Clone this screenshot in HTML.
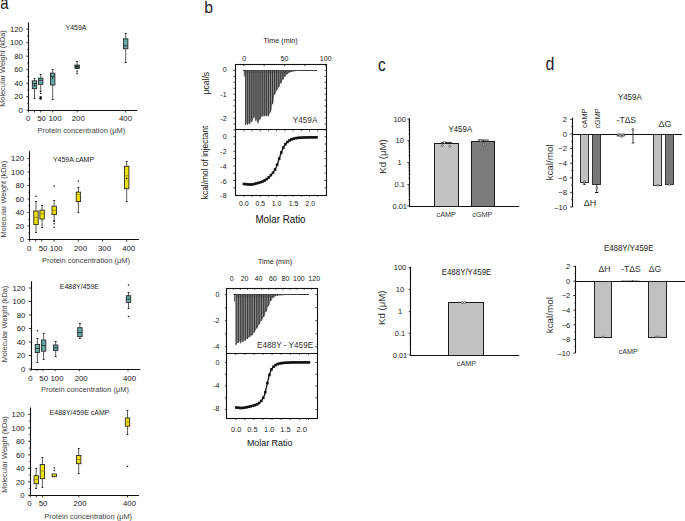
<!DOCTYPE html>
<html><head><meta charset="utf-8"><style>
html,body{margin:0;padding:0;background:#fff;overflow:hidden;width:685px;height:521px;}
svg{display:block;font-family:"Liberation Sans", sans-serif;}
</style></head><body>
<svg width="685" height="521" viewBox="0 0 685 521">
<rect width="685" height="521" fill="#fff"/>
<text x="0" y="0" font-size="17.5" fill="#222" transform="translate(0.3,9.0) scale(0.85,1)">a</text>
<text x="0" y="0" font-size="17.2" fill="#222" transform="translate(204.3,13.3) scale(0.92,1)">b</text>
<text x="0" y="0" font-size="17.5" fill="#222" transform="translate(378.0,70.9) scale(0.88,1)">c</text>
<text x="0" y="0" font-size="17.5" fill="#222" transform="translate(545.6,69.8) scale(0.92,1)">d</text>
<line x1="28.50" y1="22.40" x2="28.50" y2="110.70" stroke="#111" stroke-width="1.1"/>
<line x1="28.00" y1="110.50" x2="137.20" y2="110.50" stroke="#111" stroke-width="1.1"/>
<line x1="26.30" y1="110.20" x2="28.50" y2="110.20" stroke="#111" stroke-width="0.8"/>
<text x="22.90" y="112.97" font-size="7.8" text-anchor="end" fill="#222" >0</text>
<line x1="27.00" y1="103.45" x2="28.50" y2="103.45" stroke="#111" stroke-width="0.6"/>
<line x1="26.30" y1="96.70" x2="28.50" y2="96.70" stroke="#111" stroke-width="0.8"/>
<text x="22.90" y="99.47" font-size="7.8" text-anchor="end" fill="#222" >20</text>
<line x1="27.00" y1="89.95" x2="28.50" y2="89.95" stroke="#111" stroke-width="0.6"/>
<line x1="26.30" y1="83.20" x2="28.50" y2="83.20" stroke="#111" stroke-width="0.8"/>
<text x="22.90" y="85.97" font-size="7.8" text-anchor="end" fill="#222" >40</text>
<line x1="27.00" y1="76.45" x2="28.50" y2="76.45" stroke="#111" stroke-width="0.6"/>
<line x1="26.30" y1="69.70" x2="28.50" y2="69.70" stroke="#111" stroke-width="0.8"/>
<text x="22.90" y="72.47" font-size="7.8" text-anchor="end" fill="#222" >60</text>
<line x1="27.00" y1="62.95" x2="28.50" y2="62.95" stroke="#111" stroke-width="0.6"/>
<line x1="26.30" y1="56.20" x2="28.50" y2="56.20" stroke="#111" stroke-width="0.8"/>
<text x="22.90" y="58.97" font-size="7.8" text-anchor="end" fill="#222" >80</text>
<line x1="27.00" y1="49.45" x2="28.50" y2="49.45" stroke="#111" stroke-width="0.6"/>
<line x1="26.30" y1="42.70" x2="28.50" y2="42.70" stroke="#111" stroke-width="0.8"/>
<text x="22.90" y="45.47" font-size="7.8" text-anchor="end" fill="#222" >100</text>
<line x1="27.00" y1="35.95" x2="28.50" y2="35.95" stroke="#111" stroke-width="0.6"/>
<line x1="26.30" y1="29.20" x2="28.50" y2="29.20" stroke="#111" stroke-width="0.8"/>
<text x="22.90" y="31.97" font-size="7.8" text-anchor="end" fill="#222" >120</text>
<line x1="28.50" y1="110.20" x2="28.50" y2="112.40" stroke="#111" stroke-width="0.8"/>
<line x1="34.50" y1="110.20" x2="34.50" y2="112.40" stroke="#111" stroke-width="0.8"/>
<line x1="40.70" y1="110.20" x2="40.70" y2="112.40" stroke="#111" stroke-width="0.8"/>
<line x1="52.70" y1="110.20" x2="52.70" y2="112.40" stroke="#111" stroke-width="0.8"/>
<line x1="77.20" y1="110.20" x2="77.20" y2="112.40" stroke="#111" stroke-width="0.8"/>
<line x1="125.70" y1="110.20" x2="125.70" y2="112.40" stroke="#111" stroke-width="0.8"/>
<text x="28.20" y="121.47" font-size="7.8" text-anchor="middle" fill="#222" >0</text>
<text x="41.50" y="121.47" font-size="7.8" text-anchor="middle" fill="#222" >50</text>
<text x="55.00" y="121.47" font-size="7.8" text-anchor="middle" fill="#222" >100</text>
<text x="78.30" y="121.47" font-size="7.8" text-anchor="middle" fill="#222" >200</text>
<text x="125.50" y="121.47" font-size="7.8" text-anchor="middle" fill="#222" >400</text>
<text x="0" y="0" font-size="7.0" text-anchor="middle" fill="#222" transform="translate(76.00,30.28) scale(1,1.12)" >Y459A</text>
<text x="81.40" y="133.14" font-size="7.45" text-anchor="middle" fill="#444" >Protein concentration (μM)</text>
<text x="0" y="0" font-size="7.35" text-anchor="middle" fill="#444" transform="translate(4.81,68.50) rotate(-90)" >Molecular Weight (kDa)</text>
<line x1="34.50" y1="78.40" x2="34.50" y2="80.80" stroke="#333" stroke-width="0.8"/>
<line x1="34.50" y1="88.70" x2="34.50" y2="98.40" stroke="#333" stroke-width="0.8"/>
<line x1="33.60" y1="78.50" x2="35.40" y2="78.50" stroke="#222" stroke-width="1.0"/>
<line x1="33.60" y1="98.50" x2="35.40" y2="98.50" stroke="#222" stroke-width="1.0"/>
<rect x="32.30" y="80.80" width="4.40" height="7.90" fill="#66aaa5" stroke="#222" stroke-width="0.85"/>
<line x1="32.30" y1="83.50" x2="36.70" y2="83.50" stroke="#222" stroke-width="0.8"/>
<circle cx="34.50" cy="85.40" r="0.8" fill="#111" stroke="none" stroke-width="0.6"/>
<line x1="40.70" y1="74.00" x2="40.70" y2="78.10" stroke="#333" stroke-width="0.8"/>
<line x1="40.70" y1="84.30" x2="40.70" y2="91.50" stroke="#333" stroke-width="0.8"/>
<line x1="39.80" y1="74.50" x2="41.60" y2="74.50" stroke="#222" stroke-width="1.0"/>
<line x1="39.80" y1="91.50" x2="41.60" y2="91.50" stroke="#222" stroke-width="1.0"/>
<rect x="38.50" y="78.10" width="4.40" height="6.20" fill="#66aaa5" stroke="#222" stroke-width="0.85"/>
<line x1="38.50" y1="80.30" x2="42.90" y2="80.30" stroke="#222" stroke-width="0.8"/>
<circle cx="40.70" cy="93.40" r="0.8" fill="#111" stroke="none" stroke-width="0.6"/>
<line x1="52.70" y1="69.20" x2="52.70" y2="73.10" stroke="#333" stroke-width="0.8"/>
<line x1="52.70" y1="85.00" x2="52.70" y2="99.40" stroke="#333" stroke-width="0.8"/>
<line x1="51.80" y1="69.50" x2="53.60" y2="69.50" stroke="#222" stroke-width="1.0"/>
<line x1="51.80" y1="99.50" x2="53.60" y2="99.50" stroke="#222" stroke-width="1.0"/>
<rect x="50.50" y="73.10" width="4.40" height="11.90" fill="#66aaa5" stroke="#222" stroke-width="0.85"/>
<line x1="50.50" y1="76.20" x2="54.90" y2="76.20" stroke="#222" stroke-width="0.8"/>
<circle cx="52.70" cy="78.00" r="0.8" fill="#111" stroke="none" stroke-width="0.6"/>
<line x1="77.10" y1="61.30" x2="77.10" y2="65.10" stroke="#333" stroke-width="0.8"/>
<line x1="77.10" y1="68.30" x2="77.10" y2="68.30" stroke="#333" stroke-width="0.8"/>
<line x1="76.20" y1="61.50" x2="78.00" y2="61.50" stroke="#222" stroke-width="1.0"/>
<line x1="76.20" y1="68.50" x2="78.00" y2="68.50" stroke="#222" stroke-width="1.0"/>
<rect x="74.90" y="65.10" width="4.40" height="3.20" fill="#2f5f5c" stroke="#222" stroke-width="0.85"/>
<line x1="74.90" y1="66.50" x2="79.30" y2="66.50" stroke="#222" stroke-width="0.8"/>
<circle cx="77.10" cy="71.20" r="0.8" fill="#111" stroke="none" stroke-width="0.6"/>
<circle cx="77.10" cy="73.40" r="0.8" fill="#111" stroke="none" stroke-width="0.6"/>
<line x1="125.70" y1="33.30" x2="125.70" y2="38.80" stroke="#333" stroke-width="0.8"/>
<line x1="125.70" y1="48.80" x2="125.70" y2="62.00" stroke="#333" stroke-width="0.8"/>
<line x1="124.80" y1="33.50" x2="126.60" y2="33.50" stroke="#222" stroke-width="1.0"/>
<line x1="124.80" y1="62.50" x2="126.60" y2="62.50" stroke="#222" stroke-width="1.0"/>
<rect x="123.50" y="38.80" width="4.40" height="10.00" fill="#66aaa5" stroke="#222" stroke-width="0.85"/>
<line x1="123.50" y1="45.80" x2="127.90" y2="45.80" stroke="#222" stroke-width="0.8"/>
<ellipse cx="40.6" cy="97.9" rx="1.35" ry="1.9" fill="#111"/>
<line x1="29.50" y1="151.20" x2="29.50" y2="240.00" stroke="#111" stroke-width="1.1"/>
<line x1="29.20" y1="239.50" x2="139.00" y2="239.50" stroke="#111" stroke-width="1.1"/>
<line x1="27.50" y1="239.50" x2="29.70" y2="239.50" stroke="#111" stroke-width="0.8"/>
<text x="24.10" y="242.27" font-size="7.8" text-anchor="end" fill="#222" >0</text>
<line x1="28.20" y1="232.75" x2="29.70" y2="232.75" stroke="#111" stroke-width="0.6"/>
<line x1="27.50" y1="226.00" x2="29.70" y2="226.00" stroke="#111" stroke-width="0.8"/>
<text x="24.10" y="228.77" font-size="7.8" text-anchor="end" fill="#222" >20</text>
<line x1="28.20" y1="219.25" x2="29.70" y2="219.25" stroke="#111" stroke-width="0.6"/>
<line x1="27.50" y1="212.50" x2="29.70" y2="212.50" stroke="#111" stroke-width="0.8"/>
<text x="24.10" y="215.27" font-size="7.8" text-anchor="end" fill="#222" >40</text>
<line x1="28.20" y1="205.75" x2="29.70" y2="205.75" stroke="#111" stroke-width="0.6"/>
<line x1="27.50" y1="199.00" x2="29.70" y2="199.00" stroke="#111" stroke-width="0.8"/>
<text x="24.10" y="201.77" font-size="7.8" text-anchor="end" fill="#222" >60</text>
<line x1="28.20" y1="192.25" x2="29.70" y2="192.25" stroke="#111" stroke-width="0.6"/>
<line x1="27.50" y1="185.50" x2="29.70" y2="185.50" stroke="#111" stroke-width="0.8"/>
<text x="24.10" y="188.27" font-size="7.8" text-anchor="end" fill="#222" >80</text>
<line x1="28.20" y1="178.75" x2="29.70" y2="178.75" stroke="#111" stroke-width="0.6"/>
<line x1="27.50" y1="172.00" x2="29.70" y2="172.00" stroke="#111" stroke-width="0.8"/>
<text x="24.10" y="174.77" font-size="7.8" text-anchor="end" fill="#222" >100</text>
<line x1="28.20" y1="165.25" x2="29.70" y2="165.25" stroke="#111" stroke-width="0.6"/>
<line x1="27.50" y1="158.50" x2="29.70" y2="158.50" stroke="#111" stroke-width="0.8"/>
<text x="24.10" y="161.27" font-size="7.8" text-anchor="end" fill="#222" >120</text>
<line x1="29.70" y1="239.50" x2="29.70" y2="241.70" stroke="#111" stroke-width="0.8"/>
<line x1="35.80" y1="239.50" x2="35.80" y2="241.70" stroke="#111" stroke-width="0.8"/>
<line x1="41.80" y1="239.50" x2="41.80" y2="241.70" stroke="#111" stroke-width="0.8"/>
<line x1="54.00" y1="239.50" x2="54.00" y2="241.70" stroke="#111" stroke-width="0.8"/>
<line x1="78.20" y1="239.50" x2="78.20" y2="241.70" stroke="#111" stroke-width="0.8"/>
<line x1="102.50" y1="239.50" x2="102.50" y2="241.70" stroke="#111" stroke-width="0.8"/>
<line x1="126.70" y1="239.50" x2="126.70" y2="241.70" stroke="#111" stroke-width="0.8"/>
<text x="29.20" y="251.47" font-size="7.8" text-anchor="middle" fill="#222" >0</text>
<text x="43.00" y="251.47" font-size="7.8" text-anchor="middle" fill="#222" >50</text>
<text x="56.20" y="251.47" font-size="7.8" text-anchor="middle" fill="#222" >100</text>
<text x="80.50" y="251.47" font-size="7.8" text-anchor="middle" fill="#222" >200</text>
<text x="104.50" y="251.47" font-size="7.8" text-anchor="middle" fill="#222" >300</text>
<text x="128.70" y="251.47" font-size="7.8" text-anchor="middle" fill="#222" >400</text>
<text x="0" y="0" font-size="7.0" text-anchor="middle" fill="#222" transform="translate(73.50,161.53) scale(1,1.12)" >Y459A cAMP</text>
<text x="86.00" y="262.64" font-size="7.45" text-anchor="middle" fill="#444" >Protein concentration (μM)</text>
<text x="0" y="0" font-size="7.35" text-anchor="middle" fill="#444" transform="translate(6.36,199.20) rotate(-90)" >Molecular Weight (kDa)</text>
<line x1="36.00" y1="201.50" x2="36.00" y2="211.00" stroke="#333" stroke-width="0.8"/>
<line x1="36.00" y1="224.60" x2="36.00" y2="232.50" stroke="#333" stroke-width="0.8"/>
<line x1="35.10" y1="201.50" x2="36.90" y2="201.50" stroke="#222" stroke-width="1.0"/>
<line x1="35.10" y1="232.50" x2="36.90" y2="232.50" stroke="#222" stroke-width="1.0"/>
<rect x="33.80" y="211.00" width="4.40" height="13.60" fill="#ece104" stroke="#222" stroke-width="0.85"/>
<line x1="33.80" y1="217.50" x2="38.20" y2="217.50" stroke="#8a8000" stroke-width="0.8"/>
<circle cx="36.00" cy="196.20" r="0.8" fill="#111" stroke="none" stroke-width="0.6"/>
<line x1="42.10" y1="205.20" x2="42.10" y2="210.20" stroke="#333" stroke-width="0.8"/>
<line x1="42.10" y1="219.00" x2="42.10" y2="227.20" stroke="#333" stroke-width="0.8"/>
<line x1="41.20" y1="205.50" x2="43.00" y2="205.50" stroke="#222" stroke-width="1.0"/>
<line x1="41.20" y1="227.50" x2="43.00" y2="227.50" stroke="#222" stroke-width="1.0"/>
<rect x="39.90" y="210.20" width="4.40" height="8.80" fill="#ece104" stroke="#222" stroke-width="0.85"/>
<line x1="39.90" y1="213.70" x2="44.30" y2="213.70" stroke="#8a8000" stroke-width="0.8"/>
<line x1="54.20" y1="200.60" x2="54.20" y2="206.20" stroke="#333" stroke-width="0.8"/>
<line x1="54.20" y1="214.60" x2="54.20" y2="220.00" stroke="#333" stroke-width="0.8"/>
<line x1="53.30" y1="200.50" x2="55.10" y2="200.50" stroke="#222" stroke-width="1.0"/>
<line x1="53.30" y1="220.50" x2="55.10" y2="220.50" stroke="#222" stroke-width="1.0"/>
<rect x="52.00" y="206.20" width="4.40" height="8.40" fill="#ece104" stroke="#222" stroke-width="0.85"/>
<line x1="52.00" y1="210.40" x2="56.40" y2="210.40" stroke="#8a8000" stroke-width="0.8"/>
<circle cx="54.20" cy="186.00" r="0.8" fill="#111" stroke="none" stroke-width="0.6"/>
<circle cx="54.20" cy="221.50" r="0.8" fill="#111" stroke="none" stroke-width="0.6"/>
<circle cx="54.20" cy="223.70" r="0.8" fill="#111" stroke="none" stroke-width="0.6"/>
<circle cx="54.20" cy="227.20" r="0.8" fill="#111" stroke="none" stroke-width="0.6"/>
<line x1="78.40" y1="187.50" x2="78.40" y2="192.10" stroke="#333" stroke-width="0.8"/>
<line x1="78.40" y1="201.60" x2="78.40" y2="212.20" stroke="#333" stroke-width="0.8"/>
<line x1="77.50" y1="187.50" x2="79.30" y2="187.50" stroke="#222" stroke-width="1.0"/>
<line x1="77.50" y1="212.50" x2="79.30" y2="212.50" stroke="#222" stroke-width="1.0"/>
<rect x="76.20" y="192.10" width="4.40" height="9.50" fill="#ece104" stroke="#222" stroke-width="0.85"/>
<line x1="76.20" y1="194.60" x2="80.60" y2="194.60" stroke="#8a8000" stroke-width="0.8"/>
<circle cx="78.40" cy="181.00" r="0.8" fill="#111" stroke="none" stroke-width="0.6"/>
<line x1="126.70" y1="161.50" x2="126.70" y2="166.30" stroke="#333" stroke-width="0.8"/>
<line x1="126.70" y1="188.70" x2="126.70" y2="201.60" stroke="#333" stroke-width="0.8"/>
<line x1="125.80" y1="161.50" x2="127.60" y2="161.50" stroke="#222" stroke-width="1.0"/>
<line x1="125.80" y1="201.50" x2="127.60" y2="201.50" stroke="#222" stroke-width="1.0"/>
<rect x="124.50" y="166.30" width="4.40" height="22.40" fill="#ece104" stroke="#222" stroke-width="0.85"/>
<line x1="124.50" y1="175.70" x2="128.90" y2="175.70" stroke="#8a8000" stroke-width="0.8"/>
<circle cx="126.70" cy="178.40" r="0.8" fill="#111" stroke="none" stroke-width="0.6"/>
<line x1="31.50" y1="281.20" x2="31.50" y2="369.50" stroke="#111" stroke-width="1.1"/>
<line x1="30.50" y1="369.50" x2="140.30" y2="369.50" stroke="#111" stroke-width="1.1"/>
<line x1="28.80" y1="369.00" x2="31.00" y2="369.00" stroke="#111" stroke-width="0.8"/>
<text x="25.40" y="371.77" font-size="7.8" text-anchor="end" fill="#222" >0</text>
<line x1="28.80" y1="355.50" x2="31.00" y2="355.50" stroke="#111" stroke-width="0.8"/>
<text x="25.40" y="358.27" font-size="7.8" text-anchor="end" fill="#222" >20</text>
<line x1="28.80" y1="342.00" x2="31.00" y2="342.00" stroke="#111" stroke-width="0.8"/>
<text x="25.40" y="344.77" font-size="7.8" text-anchor="end" fill="#222" >40</text>
<line x1="28.80" y1="328.50" x2="31.00" y2="328.50" stroke="#111" stroke-width="0.8"/>
<text x="25.40" y="331.27" font-size="7.8" text-anchor="end" fill="#222" >60</text>
<line x1="28.80" y1="315.00" x2="31.00" y2="315.00" stroke="#111" stroke-width="0.8"/>
<text x="25.40" y="317.77" font-size="7.8" text-anchor="end" fill="#222" >80</text>
<line x1="28.80" y1="301.50" x2="31.00" y2="301.50" stroke="#111" stroke-width="0.8"/>
<text x="25.40" y="304.27" font-size="7.8" text-anchor="end" fill="#222" >100</text>
<line x1="28.80" y1="288.00" x2="31.00" y2="288.00" stroke="#111" stroke-width="0.8"/>
<text x="25.40" y="290.77" font-size="7.8" text-anchor="end" fill="#222" >120</text>
<line x1="31.00" y1="369.00" x2="31.00" y2="371.20" stroke="#111" stroke-width="0.8"/>
<line x1="37.00" y1="369.00" x2="37.00" y2="371.20" stroke="#111" stroke-width="0.8"/>
<line x1="43.10" y1="369.00" x2="43.10" y2="371.20" stroke="#111" stroke-width="0.8"/>
<line x1="55.20" y1="369.00" x2="55.20" y2="371.20" stroke="#111" stroke-width="0.8"/>
<line x1="79.50" y1="369.00" x2="79.50" y2="371.20" stroke="#111" stroke-width="0.8"/>
<line x1="128.00" y1="369.00" x2="128.00" y2="371.20" stroke="#111" stroke-width="0.8"/>
<text x="30.50" y="380.97" font-size="7.8" text-anchor="middle" fill="#222" >0</text>
<text x="43.70" y="380.97" font-size="7.8" text-anchor="middle" fill="#222" >50</text>
<text x="57.00" y="380.97" font-size="7.8" text-anchor="middle" fill="#222" >100</text>
<text x="81.20" y="380.97" font-size="7.8" text-anchor="middle" fill="#222" >200</text>
<text x="129.50" y="380.97" font-size="7.8" text-anchor="middle" fill="#222" >400</text>
<text x="0" y="0" font-size="7.0" text-anchor="middle" fill="#222" transform="translate(79.40,289.48) scale(1,1.12)" >E488Y/459E</text>
<text x="85.00" y="392.14" font-size="7.45" text-anchor="middle" fill="#444" >Protein concentration (μM)</text>
<text x="0" y="0" font-size="7.35" text-anchor="middle" fill="#444" transform="translate(6.61,324.00) rotate(-90)" >Molecular Weight (kDa)</text>
<line x1="37.40" y1="338.00" x2="37.40" y2="344.50" stroke="#333" stroke-width="0.8"/>
<line x1="37.40" y1="352.50" x2="37.40" y2="362.50" stroke="#333" stroke-width="0.8"/>
<line x1="36.50" y1="338.50" x2="38.30" y2="338.50" stroke="#222" stroke-width="1.0"/>
<line x1="36.50" y1="362.50" x2="38.30" y2="362.50" stroke="#222" stroke-width="1.0"/>
<rect x="35.20" y="344.50" width="4.40" height="8.00" fill="#66aaa5" stroke="#222" stroke-width="0.85"/>
<line x1="35.20" y1="348.50" x2="39.60" y2="348.50" stroke="#222" stroke-width="0.8"/>
<circle cx="37.40" cy="330.70" r="0.8" fill="#111" stroke="none" stroke-width="0.6"/>
<line x1="43.60" y1="333.20" x2="43.60" y2="340.00" stroke="#333" stroke-width="0.8"/>
<line x1="43.60" y1="351.20" x2="43.60" y2="359.20" stroke="#333" stroke-width="0.8"/>
<line x1="42.70" y1="333.50" x2="44.50" y2="333.50" stroke="#222" stroke-width="1.0"/>
<line x1="42.70" y1="359.50" x2="44.50" y2="359.50" stroke="#222" stroke-width="1.0"/>
<rect x="41.40" y="340.00" width="4.40" height="11.20" fill="#66aaa5" stroke="#222" stroke-width="0.85"/>
<line x1="41.40" y1="345.50" x2="45.80" y2="345.50" stroke="#222" stroke-width="0.8"/>
<line x1="55.70" y1="341.20" x2="55.70" y2="345.00" stroke="#333" stroke-width="0.8"/>
<line x1="55.70" y1="350.50" x2="55.70" y2="356.20" stroke="#333" stroke-width="0.8"/>
<line x1="54.80" y1="341.50" x2="56.60" y2="341.50" stroke="#222" stroke-width="1.0"/>
<line x1="54.80" y1="356.50" x2="56.60" y2="356.50" stroke="#222" stroke-width="1.0"/>
<rect x="53.50" y="345.00" width="4.40" height="5.50" fill="#66aaa5" stroke="#222" stroke-width="0.85"/>
<line x1="53.50" y1="347.80" x2="57.90" y2="347.80" stroke="#222" stroke-width="0.8"/>
<line x1="79.90" y1="323.20" x2="79.90" y2="327.70" stroke="#333" stroke-width="0.8"/>
<line x1="79.90" y1="336.70" x2="79.90" y2="338.20" stroke="#333" stroke-width="0.8"/>
<line x1="79.00" y1="323.50" x2="80.80" y2="323.50" stroke="#222" stroke-width="1.0"/>
<line x1="79.00" y1="338.50" x2="80.80" y2="338.50" stroke="#222" stroke-width="1.0"/>
<rect x="77.70" y="327.70" width="4.40" height="9.00" fill="#66aaa5" stroke="#222" stroke-width="0.85"/>
<line x1="77.70" y1="332.50" x2="82.10" y2="332.50" stroke="#222" stroke-width="0.8"/>
<line x1="128.50" y1="292.50" x2="128.50" y2="295.70" stroke="#333" stroke-width="0.8"/>
<line x1="128.50" y1="302.50" x2="128.50" y2="308.20" stroke="#333" stroke-width="0.8"/>
<line x1="127.60" y1="292.50" x2="129.40" y2="292.50" stroke="#222" stroke-width="1.0"/>
<line x1="127.60" y1="308.50" x2="129.40" y2="308.50" stroke="#222" stroke-width="1.0"/>
<rect x="126.30" y="295.70" width="4.40" height="6.80" fill="#66aaa5" stroke="#222" stroke-width="0.85"/>
<line x1="126.30" y1="299.00" x2="130.70" y2="299.00" stroke="#222" stroke-width="0.8"/>
<circle cx="128.50" cy="285.00" r="0.8" fill="#111" stroke="none" stroke-width="0.6"/>
<circle cx="128.50" cy="316.50" r="0.8" fill="#111" stroke="none" stroke-width="0.6"/>
<line x1="30.50" y1="407.50" x2="30.50" y2="495.80" stroke="#111" stroke-width="1.1"/>
<line x1="29.70" y1="495.50" x2="139.00" y2="495.50" stroke="#111" stroke-width="1.1"/>
<line x1="28.00" y1="495.30" x2="30.20" y2="495.30" stroke="#111" stroke-width="0.8"/>
<text x="24.60" y="498.07" font-size="7.8" text-anchor="end" fill="#222" >0</text>
<line x1="28.70" y1="488.55" x2="30.20" y2="488.55" stroke="#111" stroke-width="0.6"/>
<line x1="28.00" y1="481.80" x2="30.20" y2="481.80" stroke="#111" stroke-width="0.8"/>
<text x="24.60" y="484.57" font-size="7.8" text-anchor="end" fill="#222" >20</text>
<line x1="28.70" y1="475.05" x2="30.20" y2="475.05" stroke="#111" stroke-width="0.6"/>
<line x1="28.00" y1="468.30" x2="30.20" y2="468.30" stroke="#111" stroke-width="0.8"/>
<text x="24.60" y="471.07" font-size="7.8" text-anchor="end" fill="#222" >40</text>
<line x1="28.70" y1="461.55" x2="30.20" y2="461.55" stroke="#111" stroke-width="0.6"/>
<line x1="28.00" y1="454.80" x2="30.20" y2="454.80" stroke="#111" stroke-width="0.8"/>
<text x="24.60" y="457.57" font-size="7.8" text-anchor="end" fill="#222" >60</text>
<line x1="28.70" y1="448.05" x2="30.20" y2="448.05" stroke="#111" stroke-width="0.6"/>
<line x1="28.00" y1="441.30" x2="30.20" y2="441.30" stroke="#111" stroke-width="0.8"/>
<text x="24.60" y="444.07" font-size="7.8" text-anchor="end" fill="#222" >80</text>
<line x1="28.70" y1="434.55" x2="30.20" y2="434.55" stroke="#111" stroke-width="0.6"/>
<line x1="28.00" y1="427.80" x2="30.20" y2="427.80" stroke="#111" stroke-width="0.8"/>
<text x="24.60" y="430.57" font-size="7.8" text-anchor="end" fill="#222" >100</text>
<line x1="28.70" y1="421.05" x2="30.20" y2="421.05" stroke="#111" stroke-width="0.6"/>
<line x1="28.00" y1="414.30" x2="30.20" y2="414.30" stroke="#111" stroke-width="0.8"/>
<text x="24.60" y="417.07" font-size="7.8" text-anchor="end" fill="#222" >120</text>
<line x1="30.20" y1="495.30" x2="30.20" y2="497.50" stroke="#111" stroke-width="0.8"/>
<line x1="36.30" y1="495.30" x2="36.30" y2="497.50" stroke="#111" stroke-width="0.8"/>
<line x1="42.40" y1="495.30" x2="42.40" y2="497.50" stroke="#111" stroke-width="0.8"/>
<line x1="78.80" y1="495.30" x2="78.80" y2="497.50" stroke="#111" stroke-width="0.8"/>
<line x1="127.50" y1="495.30" x2="127.50" y2="497.50" stroke="#111" stroke-width="0.8"/>
<text x="29.50" y="505.77" font-size="7.8" text-anchor="middle" fill="#222" >0</text>
<text x="43.00" y="505.77" font-size="7.8" text-anchor="middle" fill="#222" >50</text>
<text x="80.00" y="505.77" font-size="7.8" text-anchor="middle" fill="#222" >200</text>
<text x="129.50" y="505.77" font-size="7.8" text-anchor="middle" fill="#222" >400</text>
<text x="0" y="0" font-size="7.0" text-anchor="middle" fill="#222" transform="translate(79.50,415.28) scale(1,1.12)" >E488Y/459E cAMP</text>
<text x="88.20" y="519.34" font-size="7.45" text-anchor="middle" fill="#444" >Protein concentration (μM)</text>
<text x="0" y="0" font-size="7.35" text-anchor="middle" fill="#444" transform="translate(6.51,454.50) rotate(-90)" >Molecular Weight (kDa)</text>
<line x1="36.20" y1="468.20" x2="36.20" y2="475.70" stroke="#333" stroke-width="0.8"/>
<line x1="36.20" y1="483.70" x2="36.20" y2="488.00" stroke="#333" stroke-width="0.8"/>
<line x1="35.30" y1="468.50" x2="37.10" y2="468.50" stroke="#222" stroke-width="1.0"/>
<line x1="35.30" y1="488.50" x2="37.10" y2="488.50" stroke="#222" stroke-width="1.0"/>
<rect x="34.00" y="475.70" width="4.40" height="8.00" fill="#ece104" stroke="#222" stroke-width="0.85"/>
<line x1="34.00" y1="479.50" x2="38.40" y2="479.50" stroke="#8a8000" stroke-width="0.8"/>
<line x1="42.40" y1="457.00" x2="42.40" y2="464.50" stroke="#333" stroke-width="0.8"/>
<line x1="42.40" y1="478.70" x2="42.40" y2="487.00" stroke="#333" stroke-width="0.8"/>
<line x1="41.50" y1="457.50" x2="43.30" y2="457.50" stroke="#222" stroke-width="1.0"/>
<line x1="41.50" y1="487.50" x2="43.30" y2="487.50" stroke="#222" stroke-width="1.0"/>
<rect x="40.20" y="464.50" width="4.40" height="14.20" fill="#ece104" stroke="#222" stroke-width="0.85"/>
<line x1="40.20" y1="471.00" x2="44.60" y2="471.00" stroke="#8a8000" stroke-width="0.8"/>
<line x1="54.30" y1="474.00" x2="54.30" y2="474.00" stroke="#333" stroke-width="0.8"/>
<line x1="54.30" y1="476.70" x2="54.30" y2="476.70" stroke="#333" stroke-width="0.8"/>
<line x1="53.40" y1="474.50" x2="55.20" y2="474.50" stroke="#222" stroke-width="1.0"/>
<line x1="53.40" y1="476.50" x2="55.20" y2="476.50" stroke="#222" stroke-width="1.0"/>
<rect x="52.10" y="474.00" width="4.40" height="2.70" fill="#ece104" stroke="#222" stroke-width="0.85"/>
<circle cx="54.30" cy="468.00" r="0.8" fill="#111" stroke="none" stroke-width="0.6"/>
<circle cx="54.30" cy="470.50" r="0.8" fill="#111" stroke="none" stroke-width="0.6"/>
<line x1="78.70" y1="448.20" x2="78.70" y2="455.50" stroke="#333" stroke-width="0.8"/>
<line x1="78.70" y1="463.70" x2="78.70" y2="473.20" stroke="#333" stroke-width="0.8"/>
<line x1="77.80" y1="448.50" x2="79.60" y2="448.50" stroke="#222" stroke-width="1.0"/>
<line x1="77.80" y1="473.50" x2="79.60" y2="473.50" stroke="#222" stroke-width="1.0"/>
<rect x="76.50" y="455.50" width="4.40" height="8.20" fill="#ece104" stroke="#222" stroke-width="0.85"/>
<line x1="76.50" y1="459.50" x2="80.90" y2="459.50" stroke="#8a8000" stroke-width="0.8"/>
<line x1="127.50" y1="410.00" x2="127.50" y2="418.00" stroke="#333" stroke-width="0.8"/>
<line x1="127.50" y1="426.20" x2="127.50" y2="434.50" stroke="#333" stroke-width="0.8"/>
<line x1="126.60" y1="410.50" x2="128.40" y2="410.50" stroke="#222" stroke-width="1.0"/>
<line x1="126.60" y1="434.50" x2="128.40" y2="434.50" stroke="#222" stroke-width="1.0"/>
<rect x="125.30" y="418.00" width="4.40" height="8.20" fill="#ece104" stroke="#222" stroke-width="0.85"/>
<line x1="125.30" y1="422.00" x2="129.70" y2="422.00" stroke="#8a8000" stroke-width="0.8"/>
<circle cx="127.50" cy="466.20" r="0.8" fill="#111" stroke="none" stroke-width="0.6"/>
<rect x="235.50" y="64.50" width="91.00" height="131.00" fill="none" stroke="#111" stroke-width="1.1"/>
<line x1="235.10" y1="129.50" x2="326.30" y2="129.50" stroke="#111" stroke-width="1.1"/>
<text x="244.20" y="60.98" font-size="7.0" text-anchor="middle" fill="#222" >0</text>
<text x="284.50" y="60.98" font-size="7.0" text-anchor="middle" fill="#222" >50</text>
<text x="325.70" y="60.98" font-size="7.0" text-anchor="middle" fill="#222" >100</text>
<text x="280.60" y="42.56" font-size="7.2" text-anchor="middle" fill="#222" >Time (min)</text>
<text x="226.60" y="72.48" font-size="7.0" text-anchor="end" fill="#222" >0</text>
<text x="226.60" y="96.98" font-size="7.0" text-anchor="end" fill="#222" >-1</text>
<text x="226.60" y="120.69" font-size="7.0" text-anchor="end" fill="#222" >-2</text>
<text x="226.60" y="139.39" font-size="7.0" text-anchor="end" fill="#222" >0</text>
<text x="226.60" y="154.19" font-size="7.0" text-anchor="end" fill="#222" >-2</text>
<text x="226.60" y="168.99" font-size="7.0" text-anchor="end" fill="#222" >-4</text>
<text x="226.60" y="183.69" font-size="7.0" text-anchor="end" fill="#222" >-6</text>
<text x="226.60" y="197.99" font-size="7.0" text-anchor="end" fill="#222" >-8</text>
<text x="243.80" y="205.89" font-size="7.0" text-anchor="middle" fill="#222" >0.0</text>
<text x="260.40" y="205.89" font-size="7.0" text-anchor="middle" fill="#222" >0.5</text>
<text x="276.60" y="205.89" font-size="7.0" text-anchor="middle" fill="#222" >1.0</text>
<text x="293.50" y="205.89" font-size="7.0" text-anchor="middle" fill="#222" >1.5</text>
<text x="310.20" y="205.89" font-size="7.0" text-anchor="middle" fill="#222" >2.0</text>
<text x="0" y="0" font-size="9.8" text-anchor="middle" fill="#111" transform="translate(280.50,223.23) scale(1,1.1)" >Molar Ratio</text>
<line x1="243.80" y1="64.50" x2="243.80" y2="66.30" stroke="#111" stroke-width="0.7"/>
<line x1="264.20" y1="64.50" x2="264.20" y2="66.30" stroke="#111" stroke-width="0.7"/>
<line x1="284.60" y1="64.50" x2="284.60" y2="66.30" stroke="#111" stroke-width="0.7"/>
<line x1="305.00" y1="64.50" x2="305.00" y2="66.30" stroke="#111" stroke-width="0.7"/>
<line x1="325.40" y1="64.50" x2="325.40" y2="66.30" stroke="#111" stroke-width="0.7"/>
<line x1="243.90" y1="129.60" x2="243.90" y2="131.40" stroke="#111" stroke-width="0.7"/>
<line x1="243.90" y1="195.00" x2="243.90" y2="196.80" stroke="#111" stroke-width="0.7"/>
<line x1="252.10" y1="129.60" x2="252.10" y2="131.40" stroke="#111" stroke-width="0.7"/>
<line x1="252.10" y1="195.00" x2="252.10" y2="196.80" stroke="#111" stroke-width="0.7"/>
<line x1="260.30" y1="129.60" x2="260.30" y2="131.40" stroke="#111" stroke-width="0.7"/>
<line x1="260.30" y1="195.00" x2="260.30" y2="196.80" stroke="#111" stroke-width="0.7"/>
<line x1="268.50" y1="129.60" x2="268.50" y2="131.40" stroke="#111" stroke-width="0.7"/>
<line x1="268.50" y1="195.00" x2="268.50" y2="196.80" stroke="#111" stroke-width="0.7"/>
<line x1="276.70" y1="129.60" x2="276.70" y2="131.40" stroke="#111" stroke-width="0.7"/>
<line x1="276.70" y1="195.00" x2="276.70" y2="196.80" stroke="#111" stroke-width="0.7"/>
<line x1="284.90" y1="129.60" x2="284.90" y2="131.40" stroke="#111" stroke-width="0.7"/>
<line x1="284.90" y1="195.00" x2="284.90" y2="196.80" stroke="#111" stroke-width="0.7"/>
<line x1="293.10" y1="129.60" x2="293.10" y2="131.40" stroke="#111" stroke-width="0.7"/>
<line x1="293.10" y1="195.00" x2="293.10" y2="196.80" stroke="#111" stroke-width="0.7"/>
<line x1="301.30" y1="129.60" x2="301.30" y2="131.40" stroke="#111" stroke-width="0.7"/>
<line x1="301.30" y1="195.00" x2="301.30" y2="196.80" stroke="#111" stroke-width="0.7"/>
<line x1="309.50" y1="129.60" x2="309.50" y2="131.40" stroke="#111" stroke-width="0.7"/>
<line x1="309.50" y1="195.00" x2="309.50" y2="196.80" stroke="#111" stroke-width="0.7"/>
<line x1="317.70" y1="129.60" x2="317.70" y2="131.40" stroke="#111" stroke-width="0.7"/>
<line x1="317.70" y1="195.00" x2="317.70" y2="196.80" stroke="#111" stroke-width="0.7"/>
<line x1="326.30" y1="70.40" x2="324.50" y2="70.40" stroke="#111" stroke-width="0.7"/>
<line x1="235.10" y1="70.40" x2="233.30" y2="70.40" stroke="#111" stroke-width="0.7"/>
<line x1="326.30" y1="76.35" x2="324.50" y2="76.35" stroke="#111" stroke-width="0.7"/>
<line x1="235.10" y1="76.35" x2="233.30" y2="76.35" stroke="#111" stroke-width="0.7"/>
<line x1="326.30" y1="82.30" x2="324.50" y2="82.30" stroke="#111" stroke-width="0.7"/>
<line x1="235.10" y1="82.30" x2="233.30" y2="82.30" stroke="#111" stroke-width="0.7"/>
<line x1="326.30" y1="88.25" x2="324.50" y2="88.25" stroke="#111" stroke-width="0.7"/>
<line x1="235.10" y1="88.25" x2="233.30" y2="88.25" stroke="#111" stroke-width="0.7"/>
<line x1="326.30" y1="94.20" x2="324.50" y2="94.20" stroke="#111" stroke-width="0.7"/>
<line x1="235.10" y1="94.20" x2="233.30" y2="94.20" stroke="#111" stroke-width="0.7"/>
<line x1="326.30" y1="100.15" x2="324.50" y2="100.15" stroke="#111" stroke-width="0.7"/>
<line x1="235.10" y1="100.15" x2="233.30" y2="100.15" stroke="#111" stroke-width="0.7"/>
<line x1="326.30" y1="106.10" x2="324.50" y2="106.10" stroke="#111" stroke-width="0.7"/>
<line x1="235.10" y1="106.10" x2="233.30" y2="106.10" stroke="#111" stroke-width="0.7"/>
<line x1="326.30" y1="112.05" x2="324.50" y2="112.05" stroke="#111" stroke-width="0.7"/>
<line x1="235.10" y1="112.05" x2="233.30" y2="112.05" stroke="#111" stroke-width="0.7"/>
<line x1="326.30" y1="118.00" x2="324.50" y2="118.00" stroke="#111" stroke-width="0.7"/>
<line x1="235.10" y1="118.00" x2="233.30" y2="118.00" stroke="#111" stroke-width="0.7"/>
<line x1="326.30" y1="123.95" x2="324.50" y2="123.95" stroke="#111" stroke-width="0.7"/>
<line x1="235.10" y1="123.95" x2="233.30" y2="123.95" stroke="#111" stroke-width="0.7"/>
<line x1="326.30" y1="129.90" x2="324.50" y2="129.90" stroke="#111" stroke-width="0.7"/>
<line x1="235.10" y1="129.90" x2="233.30" y2="129.90" stroke="#111" stroke-width="0.7"/>
<line x1="326.30" y1="136.70" x2="324.50" y2="136.70" stroke="#111" stroke-width="0.7"/>
<line x1="235.10" y1="136.70" x2="233.30" y2="136.70" stroke="#111" stroke-width="0.7"/>
<line x1="326.30" y1="144.00" x2="324.50" y2="144.00" stroke="#111" stroke-width="0.7"/>
<line x1="235.10" y1="144.00" x2="233.30" y2="144.00" stroke="#111" stroke-width="0.7"/>
<line x1="326.30" y1="151.30" x2="324.50" y2="151.30" stroke="#111" stroke-width="0.7"/>
<line x1="235.10" y1="151.30" x2="233.30" y2="151.30" stroke="#111" stroke-width="0.7"/>
<line x1="326.30" y1="158.60" x2="324.50" y2="158.60" stroke="#111" stroke-width="0.7"/>
<line x1="235.10" y1="158.60" x2="233.30" y2="158.60" stroke="#111" stroke-width="0.7"/>
<line x1="326.30" y1="165.90" x2="324.50" y2="165.90" stroke="#111" stroke-width="0.7"/>
<line x1="235.10" y1="165.90" x2="233.30" y2="165.90" stroke="#111" stroke-width="0.7"/>
<line x1="326.30" y1="173.20" x2="324.50" y2="173.20" stroke="#111" stroke-width="0.7"/>
<line x1="235.10" y1="173.20" x2="233.30" y2="173.20" stroke="#111" stroke-width="0.7"/>
<line x1="326.30" y1="180.50" x2="324.50" y2="180.50" stroke="#111" stroke-width="0.7"/>
<line x1="235.10" y1="180.50" x2="233.30" y2="180.50" stroke="#111" stroke-width="0.7"/>
<line x1="326.30" y1="187.80" x2="324.50" y2="187.80" stroke="#111" stroke-width="0.7"/>
<line x1="235.10" y1="187.80" x2="233.30" y2="187.80" stroke="#111" stroke-width="0.7"/>
<line x1="243.10" y1="70.50" x2="317.00" y2="70.50" stroke="#222" stroke-width="1.0"/>
<polygon points="245.20,70.20 245.20,124.90 246.50,122.71 247.27,124.90 248.57,122.71 249.34,124.19 250.64,122.03 251.41,121.98 252.71,119.91 253.48,118.00 254.78,116.09 255.55,121.13 256.85,119.09 257.62,123.39 258.92,121.26 259.69,119.38 260.99,117.41 261.76,116.59 263.06,114.73 263.83,116.40 265.13,114.55 265.90,116.40 267.20,114.55 267.97,116.40 269.27,114.55 270.04,112.48 271.34,110.78 272.11,104.24 273.41,102.88 274.18,94.74 275.48,93.76 276.25,90.60 277.55,89.78 278.32,87.26 279.62,86.58 280.39,83.32 281.69,82.80 282.46,79.59 283.76,79.22 284.53,76.46 285.83,76.21 286.60,74.26 287.90,74.10 288.67,72.72 289.97,72.62 290.74,72.02 292.04,71.95 292.81,71.38 294.11,71.33 294.88,71.15 296.18,71.11 296.95,70.93 298.25,70.90 299.02,70.87 300.32,70.84 301.09,70.84 302.39,70.81 303.16,70.81 304.46,70.78 305.23,70.78 306.53,70.75 307.30,70.74 308.60,70.72 309.37,70.71 310.67,70.69 311.44,70.68 312.74,70.66 313.51,70.65 314.81,70.63 315.58,70.62 316.88,70.60 316.98,70.20" fill="#6e6e6e"/>
<line x1="246.73" y1="73.20" x2="246.73" y2="123.90" stroke="#a6a6a6" stroke-width="0.6"/>
<line x1="248.80" y1="73.20" x2="248.80" y2="123.19" stroke="#a6a6a6" stroke-width="0.6"/>
<line x1="250.87" y1="73.20" x2="250.87" y2="120.98" stroke="#a6a6a6" stroke-width="0.6"/>
<line x1="252.94" y1="73.20" x2="252.94" y2="117.00" stroke="#a6a6a6" stroke-width="0.6"/>
<line x1="255.01" y1="73.20" x2="255.01" y2="117.00" stroke="#a6a6a6" stroke-width="0.6"/>
<line x1="257.08" y1="73.20" x2="257.08" y2="120.13" stroke="#a6a6a6" stroke-width="0.6"/>
<line x1="259.15" y1="73.20" x2="259.15" y2="118.38" stroke="#a6a6a6" stroke-width="0.6"/>
<line x1="261.23" y1="73.20" x2="261.23" y2="115.59" stroke="#a6a6a6" stroke-width="0.6"/>
<line x1="263.29" y1="73.20" x2="263.29" y2="115.40" stroke="#a6a6a6" stroke-width="0.6"/>
<line x1="265.37" y1="73.20" x2="265.37" y2="115.40" stroke="#a6a6a6" stroke-width="0.6"/>
<line x1="267.43" y1="73.20" x2="267.43" y2="115.40" stroke="#a6a6a6" stroke-width="0.6"/>
<line x1="269.50" y1="73.20" x2="269.50" y2="111.48" stroke="#a6a6a6" stroke-width="0.6"/>
<line x1="271.57" y1="73.20" x2="271.57" y2="103.24" stroke="#a6a6a6" stroke-width="0.6"/>
<line x1="273.64" y1="73.20" x2="273.64" y2="93.74" stroke="#a6a6a6" stroke-width="0.6"/>
<line x1="275.71" y1="73.20" x2="275.71" y2="89.60" stroke="#a6a6a6" stroke-width="0.6"/>
<line x1="277.78" y1="73.20" x2="277.78" y2="86.26" stroke="#a6a6a6" stroke-width="0.6"/>
<line x1="279.85" y1="73.20" x2="279.85" y2="82.32" stroke="#a6a6a6" stroke-width="0.6"/>
<line x1="281.92" y1="73.20" x2="281.92" y2="78.59" stroke="#a6a6a6" stroke-width="0.6"/>
<line x1="283.99" y1="73.20" x2="283.99" y2="75.46" stroke="#a6a6a6" stroke-width="0.6"/>
<line x1="244.30" y1="70.20" x2="244.30" y2="76.30" stroke="#2a2a2a" stroke-width="0.85"/>
<line x1="245.60" y1="70.20" x2="245.60" y2="124.90" stroke="#2a2a2a" stroke-width="0.85"/>
<line x1="247.67" y1="70.20" x2="247.67" y2="124.90" stroke="#2a2a2a" stroke-width="0.85"/>
<line x1="249.74" y1="70.20" x2="249.74" y2="124.19" stroke="#2a2a2a" stroke-width="0.85"/>
<line x1="251.81" y1="70.20" x2="251.81" y2="121.98" stroke="#2a2a2a" stroke-width="0.85"/>
<line x1="253.88" y1="70.20" x2="253.88" y2="118.00" stroke="#2a2a2a" stroke-width="0.85"/>
<line x1="255.95" y1="70.20" x2="255.95" y2="121.13" stroke="#2a2a2a" stroke-width="0.85"/>
<line x1="258.02" y1="70.20" x2="258.02" y2="123.39" stroke="#2a2a2a" stroke-width="0.85"/>
<line x1="260.09" y1="70.20" x2="260.09" y2="119.38" stroke="#2a2a2a" stroke-width="0.85"/>
<line x1="262.16" y1="70.20" x2="262.16" y2="116.59" stroke="#2a2a2a" stroke-width="0.85"/>
<line x1="264.23" y1="70.20" x2="264.23" y2="116.40" stroke="#2a2a2a" stroke-width="0.85"/>
<line x1="266.30" y1="70.20" x2="266.30" y2="116.40" stroke="#2a2a2a" stroke-width="0.85"/>
<line x1="268.37" y1="70.20" x2="268.37" y2="116.40" stroke="#2a2a2a" stroke-width="0.85"/>
<line x1="270.44" y1="70.20" x2="270.44" y2="112.48" stroke="#2a2a2a" stroke-width="0.85"/>
<line x1="272.51" y1="70.20" x2="272.51" y2="104.24" stroke="#2a2a2a" stroke-width="0.85"/>
<line x1="274.58" y1="70.20" x2="274.58" y2="94.74" stroke="#2a2a2a" stroke-width="0.85"/>
<line x1="276.65" y1="70.20" x2="276.65" y2="90.60" stroke="#2a2a2a" stroke-width="0.85"/>
<line x1="278.72" y1="70.20" x2="278.72" y2="87.26" stroke="#2a2a2a" stroke-width="0.85"/>
<line x1="280.79" y1="70.20" x2="280.79" y2="83.32" stroke="#2a2a2a" stroke-width="0.85"/>
<line x1="282.86" y1="70.20" x2="282.86" y2="79.59" stroke="#2a2a2a" stroke-width="0.85"/>
<line x1="284.93" y1="70.20" x2="284.93" y2="76.46" stroke="#2a2a2a" stroke-width="0.85"/>
<line x1="287.00" y1="70.20" x2="287.00" y2="74.26" stroke="#2a2a2a" stroke-width="0.85"/>
<line x1="289.07" y1="70.20" x2="289.07" y2="72.72" stroke="#2a2a2a" stroke-width="0.85"/>
<line x1="291.14" y1="70.20" x2="291.14" y2="72.02" stroke="#2a2a2a" stroke-width="0.85"/>
<line x1="293.21" y1="70.20" x2="293.21" y2="71.38" stroke="#2a2a2a" stroke-width="0.85"/>
<line x1="295.28" y1="70.20" x2="295.28" y2="71.15" stroke="#2a2a2a" stroke-width="0.85"/>
<line x1="297.35" y1="70.20" x2="297.35" y2="70.93" stroke="#2a2a2a" stroke-width="0.85"/>
<line x1="299.42" y1="70.20" x2="299.42" y2="70.87" stroke="#2a2a2a" stroke-width="0.85"/>
<line x1="301.49" y1="70.20" x2="301.49" y2="70.84" stroke="#2a2a2a" stroke-width="0.85"/>
<line x1="303.56" y1="70.20" x2="303.56" y2="70.81" stroke="#2a2a2a" stroke-width="0.85"/>
<line x1="305.63" y1="70.20" x2="305.63" y2="70.78" stroke="#2a2a2a" stroke-width="0.85"/>
<line x1="307.70" y1="70.20" x2="307.70" y2="70.74" stroke="#2a2a2a" stroke-width="0.85"/>
<line x1="309.77" y1="70.20" x2="309.77" y2="70.71" stroke="#2a2a2a" stroke-width="0.85"/>
<line x1="311.84" y1="70.20" x2="311.84" y2="70.68" stroke="#2a2a2a" stroke-width="0.85"/>
<line x1="313.91" y1="70.20" x2="313.91" y2="70.65" stroke="#2a2a2a" stroke-width="0.85"/>
<line x1="315.98" y1="70.20" x2="315.98" y2="70.62" stroke="#2a2a2a" stroke-width="0.85"/>
<polyline points="244.00,184.00 244.50,184.04 245.00,184.08 245.50,184.13 246.00,184.18 246.50,184.24 247.00,184.29 247.50,184.34 248.00,184.39 248.50,184.44 249.00,184.47 249.50,184.50 250.00,184.52 250.50,184.53 251.00,184.52 251.50,184.50 252.00,184.46 252.50,184.40 253.00,184.31 253.50,184.22 254.00,184.11 254.50,183.98 255.00,183.85 255.50,183.71 256.00,183.57 256.50,183.43 257.00,183.28 257.50,183.14 258.00,183.01 258.50,182.87 259.00,182.73 259.50,182.58 260.00,182.43 260.50,182.27 261.00,182.10 261.50,181.92 262.00,181.73 262.50,181.52 263.00,181.30 263.50,181.06 264.00,180.80 264.50,180.52 265.00,180.22 265.50,179.91 266.00,179.58 266.50,179.23 267.00,178.86 267.50,178.48 268.00,178.07 268.50,177.62 269.00,177.14 269.50,176.63 270.00,176.11 270.50,175.56 271.00,175.01 271.50,174.46 272.00,173.90 272.50,173.32 273.00,172.70 273.50,172.03 274.00,171.30 274.50,170.49 275.00,169.59 275.50,168.61 276.00,167.56 276.50,166.43 277.00,165.15 277.50,163.74 278.00,162.30 278.50,160.81 279.00,159.25 279.50,157.70 280.00,156.20 280.50,154.70 281.00,153.24 281.50,151.90 282.00,150.64 282.50,149.43 283.00,148.29 283.50,147.26 284.00,146.35 284.50,145.53 285.00,144.77 285.50,144.09 286.00,143.46 286.50,142.91 287.00,142.41 287.50,141.95 288.00,141.53 288.50,141.15 289.00,140.80 289.50,140.48 290.00,140.18 290.50,139.90 291.00,139.65 291.50,139.43 292.00,139.23 292.50,139.05 293.00,138.89 293.50,138.74 294.00,138.61 294.50,138.48 295.00,138.37 295.50,138.26 296.00,138.16 296.50,138.07 297.00,137.99 297.50,137.93 298.00,137.87 298.50,137.82 299.00,137.78 299.50,137.74 300.00,137.70 300.50,137.67 301.00,137.64 301.50,137.61 302.00,137.58 302.50,137.56 303.00,137.54 303.50,137.52 304.00,137.50 304.50,137.49 305.00,137.47 305.50,137.46 306.00,137.45 306.50,137.43 307.00,137.42 307.50,137.41 308.00,137.40 308.50,137.39 309.00,137.38 309.50,137.37 310.00,137.36 310.50,137.36 311.00,137.35 311.50,137.35 312.00,137.34 312.50,137.34 313.00,137.33 313.50,137.33 314.00,137.33 314.50,137.32 315.00,137.32 315.50,137.32 316.00,137.31 316.50,137.31 317.00,137.30" fill="none" stroke="#111" stroke-width="1.3" stroke-linejoin="round"/>
<rect x="242.70" y="182.70" width="2.6" height="2.6" fill="#111"/>
<rect x="244.77" y="182.89" width="2.6" height="2.6" fill="#111"/>
<rect x="246.84" y="183.11" width="2.6" height="2.6" fill="#111"/>
<rect x="248.91" y="183.23" width="2.6" height="2.6" fill="#111"/>
<rect x="250.98" y="183.13" width="2.6" height="2.6" fill="#111"/>
<rect x="253.05" y="182.72" width="2.6" height="2.6" fill="#111"/>
<rect x="255.12" y="182.15" width="2.6" height="2.6" fill="#111"/>
<rect x="257.19" y="181.57" width="2.6" height="2.6" fill="#111"/>
<rect x="259.26" y="180.95" width="2.6" height="2.6" fill="#111"/>
<rect x="261.33" y="180.17" width="2.6" height="2.6" fill="#111"/>
<rect x="263.40" y="179.10" width="2.6" height="2.6" fill="#111"/>
<rect x="265.47" y="177.73" width="2.6" height="2.6" fill="#111"/>
<rect x="267.54" y="176.00" width="2.6" height="2.6" fill="#111"/>
<rect x="269.61" y="173.81" width="2.6" height="2.6" fill="#111"/>
<rect x="271.68" y="171.42" width="2.6" height="2.6" fill="#111"/>
<rect x="273.75" y="168.20" width="2.6" height="2.6" fill="#111"/>
<rect x="275.82" y="163.52" width="2.6" height="2.6" fill="#111"/>
<rect x="277.89" y="157.36" width="2.6" height="2.6" fill="#111"/>
<rect x="279.96" y="151.23" width="2.6" height="2.6" fill="#111"/>
<rect x="282.03" y="146.30" width="2.6" height="2.6" fill="#111"/>
<rect x="284.10" y="142.92" width="2.6" height="2.6" fill="#111"/>
<rect x="286.17" y="140.68" width="2.6" height="2.6" fill="#111"/>
<rect x="288.24" y="139.15" width="2.6" height="2.6" fill="#111"/>
<rect x="290.31" y="138.08" width="2.6" height="2.6" fill="#111"/>
<rect x="292.38" y="137.39" width="2.6" height="2.6" fill="#111"/>
<rect x="294.45" y="136.90" width="2.6" height="2.6" fill="#111"/>
<rect x="296.52" y="136.59" width="2.6" height="2.6" fill="#111"/>
<rect x="298.59" y="136.41" width="2.6" height="2.6" fill="#111"/>
<rect x="300.66" y="136.28" width="2.6" height="2.6" fill="#111"/>
<rect x="302.73" y="136.20" width="2.6" height="2.6" fill="#111"/>
<rect x="304.80" y="136.14" width="2.6" height="2.6" fill="#111"/>
<rect x="306.87" y="136.10" width="2.6" height="2.6" fill="#111"/>
<rect x="308.94" y="136.06" width="2.6" height="2.6" fill="#111"/>
<rect x="311.01" y="136.04" width="2.6" height="2.6" fill="#111"/>
<rect x="313.08" y="136.02" width="2.6" height="2.6" fill="#111"/>
<rect x="315.15" y="136.01" width="2.6" height="2.6" fill="#111"/>
<text x="317.40" y="122.71" font-size="8.2" text-anchor="end" fill="#333" >Y459A</text>
<text x="0" y="0" font-size="8.6" text-anchor="middle" fill="#1a1a1a" transform="translate(209.05,83.20) rotate(-90)" >μcal/s</text>
<text x="0" y="0" font-size="8.4" text-anchor="middle" fill="#111" transform="translate(207.58,162.40) rotate(-90)" >kcal/mol of injectant</text>
<rect x="226.50" y="288.50" width="91.00" height="130.00" fill="none" stroke="#111" stroke-width="1.1"/>
<line x1="226.60" y1="353.50" x2="317.10" y2="353.50" stroke="#111" stroke-width="1.1"/>
<text x="231.70" y="280.88" font-size="7.0" text-anchor="middle" fill="#222" >0</text>
<text x="244.60" y="280.88" font-size="7.0" text-anchor="middle" fill="#222" >20</text>
<text x="258.50" y="280.88" font-size="7.0" text-anchor="middle" fill="#222" >40</text>
<text x="272.80" y="280.88" font-size="7.0" text-anchor="middle" fill="#222" >60</text>
<text x="285.40" y="280.88" font-size="7.0" text-anchor="middle" fill="#222" >80</text>
<text x="298.90" y="280.88" font-size="7.0" text-anchor="middle" fill="#222" >100</text>
<text x="314.20" y="280.88" font-size="7.0" text-anchor="middle" fill="#222" >120</text>
<text x="275.00" y="264.36" font-size="7.2" text-anchor="middle" fill="#222" >Time (min)</text>
<text x="219.50" y="296.88" font-size="7.0" text-anchor="end" fill="#222" >0</text>
<text x="219.50" y="322.88" font-size="7.0" text-anchor="end" fill="#222" >-2</text>
<text x="219.50" y="348.69" font-size="7.0" text-anchor="end" fill="#222" >-4</text>
<text x="219.50" y="364.99" font-size="7.0" text-anchor="end" fill="#222" >0</text>
<text x="219.50" y="388.38" font-size="7.0" text-anchor="end" fill="#222" >-4</text>
<text x="219.50" y="411.49" font-size="7.0" text-anchor="end" fill="#222" >-8</text>
<text x="236.20" y="431.86" font-size="7.5" text-anchor="middle" fill="#222" >0.0</text>
<text x="252.40" y="431.86" font-size="7.5" text-anchor="middle" fill="#222" >0.5</text>
<text x="269.30" y="431.86" font-size="7.5" text-anchor="middle" fill="#222" >1.0</text>
<text x="285.40" y="431.86" font-size="7.5" text-anchor="middle" fill="#222" >1.5</text>
<text x="301.60" y="431.86" font-size="7.5" text-anchor="middle" fill="#222" >2.0</text>
<text x="0" y="0" font-size="8.9" text-anchor="middle" fill="#111" transform="translate(269.60,445.62) scale(1,1.05)" >Molar Ratio</text>
<line x1="233.40" y1="288.00" x2="233.40" y2="289.80" stroke="#111" stroke-width="0.7"/>
<line x1="240.48" y1="288.00" x2="240.48" y2="289.80" stroke="#111" stroke-width="0.7"/>
<line x1="247.56" y1="288.00" x2="247.56" y2="289.80" stroke="#111" stroke-width="0.7"/>
<line x1="254.64" y1="288.00" x2="254.64" y2="289.80" stroke="#111" stroke-width="0.7"/>
<line x1="261.72" y1="288.00" x2="261.72" y2="289.80" stroke="#111" stroke-width="0.7"/>
<line x1="268.80" y1="288.00" x2="268.80" y2="289.80" stroke="#111" stroke-width="0.7"/>
<line x1="275.88" y1="288.00" x2="275.88" y2="289.80" stroke="#111" stroke-width="0.7"/>
<line x1="282.96" y1="288.00" x2="282.96" y2="289.80" stroke="#111" stroke-width="0.7"/>
<line x1="290.04" y1="288.00" x2="290.04" y2="289.80" stroke="#111" stroke-width="0.7"/>
<line x1="297.12" y1="288.00" x2="297.12" y2="289.80" stroke="#111" stroke-width="0.7"/>
<line x1="304.20" y1="288.00" x2="304.20" y2="289.80" stroke="#111" stroke-width="0.7"/>
<line x1="311.28" y1="288.00" x2="311.28" y2="289.80" stroke="#111" stroke-width="0.7"/>
<line x1="235.70" y1="353.30" x2="235.70" y2="355.10" stroke="#111" stroke-width="0.7"/>
<line x1="235.70" y1="418.20" x2="235.70" y2="420.00" stroke="#111" stroke-width="0.7"/>
<line x1="244.80" y1="353.30" x2="244.80" y2="355.10" stroke="#111" stroke-width="0.7"/>
<line x1="244.80" y1="418.20" x2="244.80" y2="420.00" stroke="#111" stroke-width="0.7"/>
<line x1="253.90" y1="353.30" x2="253.90" y2="355.10" stroke="#111" stroke-width="0.7"/>
<line x1="253.90" y1="418.20" x2="253.90" y2="420.00" stroke="#111" stroke-width="0.7"/>
<line x1="263.00" y1="353.30" x2="263.00" y2="355.10" stroke="#111" stroke-width="0.7"/>
<line x1="263.00" y1="418.20" x2="263.00" y2="420.00" stroke="#111" stroke-width="0.7"/>
<line x1="272.10" y1="353.30" x2="272.10" y2="355.10" stroke="#111" stroke-width="0.7"/>
<line x1="272.10" y1="418.20" x2="272.10" y2="420.00" stroke="#111" stroke-width="0.7"/>
<line x1="281.20" y1="353.30" x2="281.20" y2="355.10" stroke="#111" stroke-width="0.7"/>
<line x1="281.20" y1="418.20" x2="281.20" y2="420.00" stroke="#111" stroke-width="0.7"/>
<line x1="290.30" y1="353.30" x2="290.30" y2="355.10" stroke="#111" stroke-width="0.7"/>
<line x1="290.30" y1="418.20" x2="290.30" y2="420.00" stroke="#111" stroke-width="0.7"/>
<line x1="299.40" y1="353.30" x2="299.40" y2="355.10" stroke="#111" stroke-width="0.7"/>
<line x1="299.40" y1="418.20" x2="299.40" y2="420.00" stroke="#111" stroke-width="0.7"/>
<line x1="308.50" y1="353.30" x2="308.50" y2="355.10" stroke="#111" stroke-width="0.7"/>
<line x1="308.50" y1="418.20" x2="308.50" y2="420.00" stroke="#111" stroke-width="0.7"/>
<line x1="317.10" y1="294.60" x2="315.30" y2="294.60" stroke="#111" stroke-width="0.7"/>
<line x1="226.60" y1="294.60" x2="224.80" y2="294.60" stroke="#111" stroke-width="0.7"/>
<line x1="317.10" y1="307.65" x2="315.30" y2="307.65" stroke="#111" stroke-width="0.7"/>
<line x1="226.60" y1="307.65" x2="224.80" y2="307.65" stroke="#111" stroke-width="0.7"/>
<line x1="317.10" y1="320.70" x2="315.30" y2="320.70" stroke="#111" stroke-width="0.7"/>
<line x1="226.60" y1="320.70" x2="224.80" y2="320.70" stroke="#111" stroke-width="0.7"/>
<line x1="317.10" y1="333.75" x2="315.30" y2="333.75" stroke="#111" stroke-width="0.7"/>
<line x1="226.60" y1="333.75" x2="224.80" y2="333.75" stroke="#111" stroke-width="0.7"/>
<line x1="317.10" y1="346.80" x2="315.30" y2="346.80" stroke="#111" stroke-width="0.7"/>
<line x1="226.60" y1="346.80" x2="224.80" y2="346.80" stroke="#111" stroke-width="0.7"/>
<line x1="317.10" y1="362.40" x2="315.30" y2="362.40" stroke="#111" stroke-width="0.7"/>
<line x1="226.60" y1="362.40" x2="224.80" y2="362.40" stroke="#111" stroke-width="0.7"/>
<line x1="317.10" y1="374.20" x2="315.30" y2="374.20" stroke="#111" stroke-width="0.7"/>
<line x1="226.60" y1="374.20" x2="224.80" y2="374.20" stroke="#111" stroke-width="0.7"/>
<line x1="317.10" y1="386.00" x2="315.30" y2="386.00" stroke="#111" stroke-width="0.7"/>
<line x1="226.60" y1="386.00" x2="224.80" y2="386.00" stroke="#111" stroke-width="0.7"/>
<line x1="317.10" y1="397.80" x2="315.30" y2="397.80" stroke="#111" stroke-width="0.7"/>
<line x1="226.60" y1="397.80" x2="224.80" y2="397.80" stroke="#111" stroke-width="0.7"/>
<line x1="317.10" y1="409.60" x2="315.30" y2="409.60" stroke="#111" stroke-width="0.7"/>
<line x1="226.60" y1="409.60" x2="224.80" y2="409.60" stroke="#111" stroke-width="0.7"/>
<line x1="233.50" y1="294.50" x2="308.80" y2="294.50" stroke="#222" stroke-width="1.0"/>
<polygon points="235.70,294.60 235.70,345.30 237.00,343.27 238.00,343.00 239.30,341.06 240.30,343.30 241.60,341.35 242.60,342.20 243.90,340.30 244.90,340.70 246.20,338.86 247.20,339.10 248.50,337.32 249.50,337.18 250.80,335.48 251.80,335.38 253.10,333.75 254.10,332.33 255.40,330.83 256.40,328.57 257.70,327.21 258.70,324.67 260.00,323.47 261.00,320.87 262.30,319.81 263.30,317.07 264.60,316.17 265.60,311.73 266.90,311.05 267.90,306.33 269.20,305.87 270.20,300.93 271.50,300.68 272.50,297.83 273.80,297.70 274.80,296.17 276.10,296.11 277.10,295.61 278.40,295.57 279.40,295.37 280.70,295.34 281.70,295.21 283.00,295.18 284.00,295.04 285.30,295.03 286.30,294.99 287.60,294.97 288.60,294.97 289.90,294.95 290.90,294.95 292.20,294.93 293.20,294.93 294.50,294.92 295.50,294.91 296.80,294.90 297.80,294.89 299.10,294.88 300.10,294.87 301.40,294.86 302.40,294.85 303.70,294.84 304.70,294.83 306.00,294.82 307.00,294.81 308.30,294.80 308.40,294.60" fill="#6e6e6e"/>
<line x1="237.35" y1="297.60" x2="237.35" y2="342.00" stroke="#a6a6a6" stroke-width="0.6"/>
<line x1="239.65" y1="297.60" x2="239.65" y2="342.00" stroke="#a6a6a6" stroke-width="0.6"/>
<line x1="241.95" y1="297.60" x2="241.95" y2="341.20" stroke="#a6a6a6" stroke-width="0.6"/>
<line x1="244.25" y1="297.60" x2="244.25" y2="339.70" stroke="#a6a6a6" stroke-width="0.6"/>
<line x1="246.55" y1="297.60" x2="246.55" y2="338.10" stroke="#a6a6a6" stroke-width="0.6"/>
<line x1="248.85" y1="297.60" x2="248.85" y2="336.18" stroke="#a6a6a6" stroke-width="0.6"/>
<line x1="251.15" y1="297.60" x2="251.15" y2="334.38" stroke="#a6a6a6" stroke-width="0.6"/>
<line x1="253.45" y1="297.60" x2="253.45" y2="331.33" stroke="#a6a6a6" stroke-width="0.6"/>
<line x1="255.75" y1="297.60" x2="255.75" y2="327.57" stroke="#a6a6a6" stroke-width="0.6"/>
<line x1="258.05" y1="297.60" x2="258.05" y2="323.67" stroke="#a6a6a6" stroke-width="0.6"/>
<line x1="260.35" y1="297.60" x2="260.35" y2="319.87" stroke="#a6a6a6" stroke-width="0.6"/>
<line x1="262.65" y1="297.60" x2="262.65" y2="316.07" stroke="#a6a6a6" stroke-width="0.6"/>
<line x1="264.95" y1="297.60" x2="264.95" y2="310.73" stroke="#a6a6a6" stroke-width="0.6"/>
<line x1="267.25" y1="297.60" x2="267.25" y2="305.33" stroke="#a6a6a6" stroke-width="0.6"/>
<line x1="269.55" y1="297.60" x2="269.55" y2="299.93" stroke="#a6a6a6" stroke-width="0.6"/>
<line x1="234.60" y1="294.60" x2="234.60" y2="301.50" stroke="#2a2a2a" stroke-width="0.85"/>
<line x1="236.10" y1="294.60" x2="236.10" y2="345.30" stroke="#2a2a2a" stroke-width="0.85"/>
<line x1="238.40" y1="294.60" x2="238.40" y2="343.00" stroke="#2a2a2a" stroke-width="0.85"/>
<line x1="240.70" y1="294.60" x2="240.70" y2="343.30" stroke="#2a2a2a" stroke-width="0.85"/>
<line x1="243.00" y1="294.60" x2="243.00" y2="342.20" stroke="#2a2a2a" stroke-width="0.85"/>
<line x1="245.30" y1="294.60" x2="245.30" y2="340.70" stroke="#2a2a2a" stroke-width="0.85"/>
<line x1="247.60" y1="294.60" x2="247.60" y2="339.10" stroke="#2a2a2a" stroke-width="0.85"/>
<line x1="249.90" y1="294.60" x2="249.90" y2="337.18" stroke="#2a2a2a" stroke-width="0.85"/>
<line x1="252.20" y1="294.60" x2="252.20" y2="335.38" stroke="#2a2a2a" stroke-width="0.85"/>
<line x1="254.50" y1="294.60" x2="254.50" y2="332.33" stroke="#2a2a2a" stroke-width="0.85"/>
<line x1="256.80" y1="294.60" x2="256.80" y2="328.57" stroke="#2a2a2a" stroke-width="0.85"/>
<line x1="259.10" y1="294.60" x2="259.10" y2="324.67" stroke="#2a2a2a" stroke-width="0.85"/>
<line x1="261.40" y1="294.60" x2="261.40" y2="320.87" stroke="#2a2a2a" stroke-width="0.85"/>
<line x1="263.70" y1="294.60" x2="263.70" y2="317.07" stroke="#2a2a2a" stroke-width="0.85"/>
<line x1="266.00" y1="294.60" x2="266.00" y2="311.73" stroke="#2a2a2a" stroke-width="0.85"/>
<line x1="268.30" y1="294.60" x2="268.30" y2="306.33" stroke="#2a2a2a" stroke-width="0.85"/>
<line x1="270.60" y1="294.60" x2="270.60" y2="300.93" stroke="#2a2a2a" stroke-width="0.85"/>
<line x1="272.90" y1="294.60" x2="272.90" y2="297.83" stroke="#2a2a2a" stroke-width="0.85"/>
<line x1="275.20" y1="294.60" x2="275.20" y2="296.17" stroke="#2a2a2a" stroke-width="0.85"/>
<line x1="277.50" y1="294.60" x2="277.50" y2="295.61" stroke="#2a2a2a" stroke-width="0.85"/>
<line x1="279.80" y1="294.60" x2="279.80" y2="295.37" stroke="#2a2a2a" stroke-width="0.85"/>
<line x1="282.10" y1="294.60" x2="282.10" y2="295.21" stroke="#2a2a2a" stroke-width="0.85"/>
<line x1="284.40" y1="294.60" x2="284.40" y2="295.04" stroke="#2a2a2a" stroke-width="0.85"/>
<line x1="286.70" y1="294.60" x2="286.70" y2="294.99" stroke="#2a2a2a" stroke-width="0.85"/>
<line x1="289.00" y1="294.60" x2="289.00" y2="294.97" stroke="#2a2a2a" stroke-width="0.85"/>
<line x1="291.30" y1="294.60" x2="291.30" y2="294.95" stroke="#2a2a2a" stroke-width="0.85"/>
<line x1="293.60" y1="294.60" x2="293.60" y2="294.93" stroke="#2a2a2a" stroke-width="0.85"/>
<line x1="295.90" y1="294.60" x2="295.90" y2="294.91" stroke="#2a2a2a" stroke-width="0.85"/>
<line x1="298.20" y1="294.60" x2="298.20" y2="294.89" stroke="#2a2a2a" stroke-width="0.85"/>
<line x1="300.50" y1="294.60" x2="300.50" y2="294.87" stroke="#2a2a2a" stroke-width="0.85"/>
<line x1="302.80" y1="294.60" x2="302.80" y2="294.85" stroke="#2a2a2a" stroke-width="0.85"/>
<line x1="305.10" y1="294.60" x2="305.10" y2="294.83" stroke="#2a2a2a" stroke-width="0.85"/>
<line x1="307.40" y1="294.60" x2="307.40" y2="294.81" stroke="#2a2a2a" stroke-width="0.85"/>
<polyline points="236.30,407.50 236.80,407.55 237.30,407.62 237.80,407.69 238.30,407.76 238.80,407.82 239.30,407.89 239.80,407.94 240.30,407.98 240.80,408.00 241.30,408.01 241.80,407.99 242.30,407.95 242.80,407.90 243.30,407.84 243.80,407.77 244.30,407.69 244.80,407.60 245.30,407.50 245.80,407.40 246.30,407.30 246.80,407.20 247.30,407.10 247.80,407.00 248.30,406.89 248.80,406.78 249.30,406.67 249.80,406.56 250.30,406.44 250.80,406.31 251.30,406.18 251.80,406.05 252.30,405.91 252.80,405.76 253.30,405.61 253.80,405.46 254.30,405.31 254.80,405.15 255.30,404.98 255.80,404.80 256.30,404.61 256.80,404.39 257.30,404.16 257.80,403.89 258.30,403.58 258.80,403.23 259.30,402.84 259.80,402.40 260.30,401.91 260.80,401.37 261.30,400.76 261.80,400.07 262.30,399.32 262.80,398.50 263.30,397.64 263.80,396.70 264.30,395.55 264.80,394.05 265.30,392.13 265.80,389.98 266.30,387.80 266.80,385.60 267.30,383.33 267.80,381.13 268.30,379.09 268.80,377.14 269.30,375.32 269.80,373.69 270.30,372.22 270.80,370.91 271.30,369.79 271.80,368.88 272.30,368.13 272.80,367.51 273.30,366.98 273.80,366.50 274.30,366.06 274.80,365.65 275.30,365.28 275.80,364.95 276.30,364.65 276.80,364.38 277.30,364.16 277.80,363.96 278.30,363.80 278.80,363.65 279.30,363.53 279.80,363.42 280.30,363.32 280.80,363.24 281.30,363.17 281.80,363.10 282.30,363.04 282.80,362.98 283.30,362.92 283.80,362.87 284.30,362.83 284.80,362.78 285.30,362.75 285.80,362.71 286.30,362.68 286.80,362.65 287.30,362.62 287.80,362.59 288.30,362.57 288.80,362.55 289.30,362.53 289.80,362.51 290.30,362.49 290.80,362.47 291.30,362.46 291.80,362.45 292.30,362.44 292.80,362.43 293.30,362.42 293.80,362.42 294.30,362.41 294.80,362.41 295.30,362.41 295.80,362.41 296.30,362.40 296.80,362.40 297.30,362.40 297.80,362.40 298.30,362.40 298.80,362.40 299.30,362.40 299.80,362.40 300.30,362.40 300.80,362.40 301.30,362.40 301.80,362.39 302.30,362.39 302.80,362.39 303.30,362.39 303.80,362.39 304.30,362.39 304.80,362.39 305.30,362.39 305.80,362.39 306.30,362.39 306.80,362.40 307.30,362.40 307.80,362.40 308.30,362.40 308.80,362.40 309.30,362.40 309.80,362.40 310.30,362.40" fill="none" stroke="#111" stroke-width="1.3" stroke-linejoin="round"/>
<rect x="235.00" y="406.20" width="2.6" height="2.6" fill="#111"/>
<rect x="237.07" y="406.46" width="2.6" height="2.6" fill="#111"/>
<rect x="239.14" y="406.69" width="2.6" height="2.6" fill="#111"/>
<rect x="241.21" y="406.63" width="2.6" height="2.6" fill="#111"/>
<rect x="243.28" y="406.34" width="2.6" height="2.6" fill="#111"/>
<rect x="245.35" y="405.93" width="2.6" height="2.6" fill="#111"/>
<rect x="247.42" y="405.50" width="2.6" height="2.6" fill="#111"/>
<rect x="249.49" y="405.01" width="2.6" height="2.6" fill="#111"/>
<rect x="251.56" y="404.44" width="2.6" height="2.6" fill="#111"/>
<rect x="253.63" y="403.81" width="2.6" height="2.6" fill="#111"/>
<rect x="255.70" y="403.00" width="2.6" height="2.6" fill="#111"/>
<rect x="257.77" y="401.72" width="2.6" height="2.6" fill="#111"/>
<rect x="259.84" y="399.66" width="2.6" height="2.6" fill="#111"/>
<rect x="261.91" y="396.50" width="2.6" height="2.6" fill="#111"/>
<rect x="263.98" y="390.91" width="2.6" height="2.6" fill="#111"/>
<rect x="266.05" y="381.81" width="2.6" height="2.6" fill="#111"/>
<rect x="268.12" y="373.61" width="2.6" height="2.6" fill="#111"/>
<rect x="270.19" y="368.12" width="2.6" height="2.6" fill="#111"/>
<rect x="272.26" y="365.42" width="2.6" height="2.6" fill="#111"/>
<rect x="274.33" y="363.76" width="2.6" height="2.6" fill="#111"/>
<rect x="276.40" y="362.70" width="2.6" height="2.6" fill="#111"/>
<rect x="278.47" y="362.13" width="2.6" height="2.6" fill="#111"/>
<rect x="280.54" y="361.79" width="2.6" height="2.6" fill="#111"/>
<rect x="282.61" y="361.56" width="2.6" height="2.6" fill="#111"/>
<rect x="284.68" y="361.40" width="2.6" height="2.6" fill="#111"/>
<rect x="286.75" y="361.28" width="2.6" height="2.6" fill="#111"/>
<rect x="288.82" y="361.20" width="2.6" height="2.6" fill="#111"/>
<rect x="290.89" y="361.14" width="2.6" height="2.6" fill="#111"/>
<rect x="292.96" y="361.11" width="2.6" height="2.6" fill="#111"/>
<rect x="295.03" y="361.10" width="2.6" height="2.6" fill="#111"/>
<rect x="297.10" y="361.10" width="2.6" height="2.6" fill="#111"/>
<rect x="299.17" y="361.10" width="2.6" height="2.6" fill="#111"/>
<rect x="301.24" y="361.09" width="2.6" height="2.6" fill="#111"/>
<rect x="303.31" y="361.09" width="2.6" height="2.6" fill="#111"/>
<rect x="305.38" y="361.10" width="2.6" height="2.6" fill="#111"/>
<rect x="307.45" y="361.10" width="2.6" height="2.6" fill="#111"/>
<text x="313.20" y="348.21" font-size="8.2" text-anchor="end" fill="#333" >E488Y - Y459E</text>
<line x1="409.50" y1="118.50" x2="409.50" y2="206.00" stroke="#111" stroke-width="1.1"/>
<line x1="409.00" y1="206.50" x2="519.20" y2="206.50" stroke="#111" stroke-width="1.1"/>
<line x1="407.30" y1="118.90" x2="409.50" y2="118.90" stroke="#111" stroke-width="0.8"/>
<text x="399.70" y="121.56" font-size="7.5" text-anchor="middle" fill="#222" >100</text>
<line x1="408.30" y1="134.12" x2="409.50" y2="134.12" stroke="#111" stroke-width="0.5"/>
<line x1="408.30" y1="130.29" x2="409.50" y2="130.29" stroke="#111" stroke-width="0.5"/>
<line x1="408.30" y1="127.57" x2="409.50" y2="127.57" stroke="#111" stroke-width="0.5"/>
<line x1="408.30" y1="125.45" x2="409.50" y2="125.45" stroke="#111" stroke-width="0.5"/>
<line x1="408.30" y1="123.73" x2="409.50" y2="123.73" stroke="#111" stroke-width="0.5"/>
<line x1="408.30" y1="122.27" x2="409.50" y2="122.27" stroke="#111" stroke-width="0.5"/>
<line x1="408.30" y1="121.01" x2="409.50" y2="121.01" stroke="#111" stroke-width="0.5"/>
<line x1="408.30" y1="119.90" x2="409.50" y2="119.90" stroke="#111" stroke-width="0.5"/>
<line x1="407.30" y1="140.60" x2="409.50" y2="140.60" stroke="#111" stroke-width="0.8"/>
<text x="399.70" y="143.26" font-size="7.5" text-anchor="middle" fill="#222" >10</text>
<line x1="408.30" y1="155.82" x2="409.50" y2="155.82" stroke="#111" stroke-width="0.5"/>
<line x1="408.30" y1="151.99" x2="409.50" y2="151.99" stroke="#111" stroke-width="0.5"/>
<line x1="408.30" y1="149.27" x2="409.50" y2="149.27" stroke="#111" stroke-width="0.5"/>
<line x1="408.30" y1="147.15" x2="409.50" y2="147.15" stroke="#111" stroke-width="0.5"/>
<line x1="408.30" y1="145.43" x2="409.50" y2="145.43" stroke="#111" stroke-width="0.5"/>
<line x1="408.30" y1="143.97" x2="409.50" y2="143.97" stroke="#111" stroke-width="0.5"/>
<line x1="408.30" y1="142.71" x2="409.50" y2="142.71" stroke="#111" stroke-width="0.5"/>
<line x1="408.30" y1="141.60" x2="409.50" y2="141.60" stroke="#111" stroke-width="0.5"/>
<line x1="407.30" y1="162.70" x2="409.50" y2="162.70" stroke="#111" stroke-width="0.8"/>
<text x="399.70" y="165.36" font-size="7.5" text-anchor="middle" fill="#222" >1</text>
<line x1="408.30" y1="177.92" x2="409.50" y2="177.92" stroke="#111" stroke-width="0.5"/>
<line x1="408.30" y1="174.09" x2="409.50" y2="174.09" stroke="#111" stroke-width="0.5"/>
<line x1="408.30" y1="171.37" x2="409.50" y2="171.37" stroke="#111" stroke-width="0.5"/>
<line x1="408.30" y1="169.25" x2="409.50" y2="169.25" stroke="#111" stroke-width="0.5"/>
<line x1="408.30" y1="167.53" x2="409.50" y2="167.53" stroke="#111" stroke-width="0.5"/>
<line x1="408.30" y1="166.07" x2="409.50" y2="166.07" stroke="#111" stroke-width="0.5"/>
<line x1="408.30" y1="164.81" x2="409.50" y2="164.81" stroke="#111" stroke-width="0.5"/>
<line x1="408.30" y1="163.70" x2="409.50" y2="163.70" stroke="#111" stroke-width="0.5"/>
<line x1="407.30" y1="184.50" x2="409.50" y2="184.50" stroke="#111" stroke-width="0.8"/>
<text x="399.70" y="187.16" font-size="7.5" text-anchor="middle" fill="#222" >0.1</text>
<line x1="408.30" y1="199.72" x2="409.50" y2="199.72" stroke="#111" stroke-width="0.5"/>
<line x1="408.30" y1="195.89" x2="409.50" y2="195.89" stroke="#111" stroke-width="0.5"/>
<line x1="408.30" y1="193.17" x2="409.50" y2="193.17" stroke="#111" stroke-width="0.5"/>
<line x1="408.30" y1="191.05" x2="409.50" y2="191.05" stroke="#111" stroke-width="0.5"/>
<line x1="408.30" y1="189.33" x2="409.50" y2="189.33" stroke="#111" stroke-width="0.5"/>
<line x1="408.30" y1="187.87" x2="409.50" y2="187.87" stroke="#111" stroke-width="0.5"/>
<line x1="408.30" y1="186.61" x2="409.50" y2="186.61" stroke="#111" stroke-width="0.5"/>
<line x1="408.30" y1="185.50" x2="409.50" y2="185.50" stroke="#111" stroke-width="0.5"/>
<line x1="407.30" y1="206.00" x2="409.50" y2="206.00" stroke="#111" stroke-width="0.8"/>
<text x="399.70" y="208.66" font-size="7.5" text-anchor="middle" fill="#222" >0.01</text>
<text x="0" y="0" font-size="7.9" text-anchor="middle" fill="#222" transform="translate(460.30,132.04) scale(1,1.12)" >Y459A</text>
<text x="0" y="0" font-size="9.6" text-anchor="middle" fill="#333" transform="translate(386.01,156.50) rotate(-90)" >Kd (μM)</text>
<rect x="434.50" y="143.50" width="24.00" height="63.00" fill="#c2c2c2" stroke="#1a1a1a" stroke-width="1.0"/>
<line x1="441.40" y1="142.40" x2="451.80" y2="142.40" stroke="#111" stroke-width="0.9"/>
<line x1="446.60" y1="142.40" x2="446.60" y2="143.50" stroke="#111" stroke-width="0.9"/>
<circle cx="442.30" cy="145.50" r="1.0" fill="white" stroke="#222" stroke-width="0.6"/>
<circle cx="449.70" cy="146.40" r="1.0" fill="white" stroke="#222" stroke-width="0.6"/>
<circle cx="444.50" cy="142.40" r="1.0" fill="white" stroke="#222" stroke-width="0.6"/>
<rect x="471.50" y="141.50" width="23.00" height="65.00" fill="#7b7b7b" stroke="#1a1a1a" stroke-width="1.0"/>
<line x1="477.70" y1="140.00" x2="488.90" y2="140.00" stroke="#111" stroke-width="0.9"/>
<line x1="483.30" y1="140.00" x2="483.30" y2="141.70" stroke="#111" stroke-width="0.9"/>
<circle cx="483.70" cy="144.20" r="1.0" fill="white" stroke="#222" stroke-width="0.6"/>
<circle cx="480.60" cy="140.70" r="1.0" fill="white" stroke="#222" stroke-width="0.6"/>
<text x="446.20" y="217.06" font-size="7.2" text-anchor="middle" fill="#333" >cAMP</text>
<text x="482.30" y="217.06" font-size="7.2" text-anchor="middle" fill="#333" >cGMP</text>
<line x1="410.50" y1="266.70" x2="410.50" y2="355.20" stroke="#111" stroke-width="1.1"/>
<line x1="410.40" y1="355.50" x2="519.20" y2="355.50" stroke="#111" stroke-width="1.1"/>
<line x1="408.70" y1="267.50" x2="410.90" y2="267.50" stroke="#111" stroke-width="0.8"/>
<text x="400.00" y="270.16" font-size="7.5" text-anchor="middle" fill="#222" >100</text>
<line x1="409.70" y1="282.79" x2="410.90" y2="282.79" stroke="#111" stroke-width="0.5"/>
<line x1="409.70" y1="278.94" x2="410.90" y2="278.94" stroke="#111" stroke-width="0.5"/>
<line x1="409.70" y1="276.20" x2="410.90" y2="276.20" stroke="#111" stroke-width="0.5"/>
<line x1="409.70" y1="274.09" x2="410.90" y2="274.09" stroke="#111" stroke-width="0.5"/>
<line x1="409.70" y1="272.35" x2="410.90" y2="272.35" stroke="#111" stroke-width="0.5"/>
<line x1="409.70" y1="270.89" x2="410.90" y2="270.89" stroke="#111" stroke-width="0.5"/>
<line x1="409.70" y1="269.62" x2="410.90" y2="269.62" stroke="#111" stroke-width="0.5"/>
<line x1="409.70" y1="268.50" x2="410.90" y2="268.50" stroke="#111" stroke-width="0.5"/>
<line x1="408.70" y1="289.50" x2="410.90" y2="289.50" stroke="#111" stroke-width="0.8"/>
<text x="400.00" y="292.16" font-size="7.5" text-anchor="middle" fill="#222" >10</text>
<line x1="409.70" y1="304.79" x2="410.90" y2="304.79" stroke="#111" stroke-width="0.5"/>
<line x1="409.70" y1="300.94" x2="410.90" y2="300.94" stroke="#111" stroke-width="0.5"/>
<line x1="409.70" y1="298.20" x2="410.90" y2="298.20" stroke="#111" stroke-width="0.5"/>
<line x1="409.70" y1="296.09" x2="410.90" y2="296.09" stroke="#111" stroke-width="0.5"/>
<line x1="409.70" y1="294.35" x2="410.90" y2="294.35" stroke="#111" stroke-width="0.5"/>
<line x1="409.70" y1="292.89" x2="410.90" y2="292.89" stroke="#111" stroke-width="0.5"/>
<line x1="409.70" y1="291.62" x2="410.90" y2="291.62" stroke="#111" stroke-width="0.5"/>
<line x1="409.70" y1="290.50" x2="410.90" y2="290.50" stroke="#111" stroke-width="0.5"/>
<line x1="408.70" y1="311.30" x2="410.90" y2="311.30" stroke="#111" stroke-width="0.8"/>
<text x="400.00" y="313.96" font-size="7.5" text-anchor="middle" fill="#222" >1</text>
<line x1="409.70" y1="326.59" x2="410.90" y2="326.59" stroke="#111" stroke-width="0.5"/>
<line x1="409.70" y1="322.74" x2="410.90" y2="322.74" stroke="#111" stroke-width="0.5"/>
<line x1="409.70" y1="320.00" x2="410.90" y2="320.00" stroke="#111" stroke-width="0.5"/>
<line x1="409.70" y1="317.89" x2="410.90" y2="317.89" stroke="#111" stroke-width="0.5"/>
<line x1="409.70" y1="316.15" x2="410.90" y2="316.15" stroke="#111" stroke-width="0.5"/>
<line x1="409.70" y1="314.69" x2="410.90" y2="314.69" stroke="#111" stroke-width="0.5"/>
<line x1="409.70" y1="313.42" x2="410.90" y2="313.42" stroke="#111" stroke-width="0.5"/>
<line x1="409.70" y1="312.30" x2="410.90" y2="312.30" stroke="#111" stroke-width="0.5"/>
<line x1="408.70" y1="333.30" x2="410.90" y2="333.30" stroke="#111" stroke-width="0.8"/>
<text x="400.00" y="335.96" font-size="7.5" text-anchor="middle" fill="#222" >0.1</text>
<line x1="409.70" y1="348.59" x2="410.90" y2="348.59" stroke="#111" stroke-width="0.5"/>
<line x1="409.70" y1="344.74" x2="410.90" y2="344.74" stroke="#111" stroke-width="0.5"/>
<line x1="409.70" y1="342.00" x2="410.90" y2="342.00" stroke="#111" stroke-width="0.5"/>
<line x1="409.70" y1="339.89" x2="410.90" y2="339.89" stroke="#111" stroke-width="0.5"/>
<line x1="409.70" y1="338.15" x2="410.90" y2="338.15" stroke="#111" stroke-width="0.5"/>
<line x1="409.70" y1="336.69" x2="410.90" y2="336.69" stroke="#111" stroke-width="0.5"/>
<line x1="409.70" y1="335.42" x2="410.90" y2="335.42" stroke="#111" stroke-width="0.5"/>
<line x1="409.70" y1="334.30" x2="410.90" y2="334.30" stroke="#111" stroke-width="0.5"/>
<line x1="408.70" y1="355.00" x2="410.90" y2="355.00" stroke="#111" stroke-width="0.8"/>
<text x="400.00" y="357.66" font-size="7.5" text-anchor="middle" fill="#222" >0.01</text>
<text x="0" y="0" font-size="7.9" text-anchor="middle" fill="#222" transform="translate(466.50,274.64) scale(1,1.12)" >E488Y/Y459E</text>
<text x="0" y="0" font-size="9.6" text-anchor="middle" fill="#333" transform="translate(385.21,307.80) rotate(-90)" >Kd (μM)</text>
<rect x="448.50" y="302.50" width="35.00" height="53.00" fill="#c2c2c2" stroke="#1a1a1a" stroke-width="1.0"/>
<line x1="460.50" y1="302.40" x2="467.00" y2="302.40" stroke="#111" stroke-width="0.9"/>
<line x1="463.75" y1="302.40" x2="463.75" y2="302.40" stroke="#111" stroke-width="0.9"/>
<circle cx="462.40" cy="302.60" r="1.0" fill="white" stroke="#222" stroke-width="0.6"/>
<circle cx="464.60" cy="302.60" r="1.0" fill="white" stroke="#222" stroke-width="0.6"/>
<text x="466.40" y="366.26" font-size="7.2" text-anchor="middle" fill="#333" >cAMP</text>
<line x1="572.50" y1="117.70" x2="572.50" y2="207.30" stroke="#111" stroke-width="1.1"/>
<line x1="572.30" y1="134.50" x2="682.00" y2="134.50" stroke="#111" stroke-width="1.1"/>
<line x1="570.10" y1="119.40" x2="572.30" y2="119.40" stroke="#111" stroke-width="0.8"/>
<text x="567.00" y="122.10" font-size="7.6" text-anchor="end" fill="#222" >2</text>
<line x1="570.10" y1="134.00" x2="572.30" y2="134.00" stroke="#111" stroke-width="0.8"/>
<text x="567.00" y="136.70" font-size="7.6" text-anchor="end" fill="#222" >0</text>
<line x1="570.10" y1="148.60" x2="572.30" y2="148.60" stroke="#111" stroke-width="0.8"/>
<text x="567.00" y="151.30" font-size="7.6" text-anchor="end" fill="#222" >−2</text>
<line x1="570.10" y1="163.20" x2="572.30" y2="163.20" stroke="#111" stroke-width="0.8"/>
<text x="567.00" y="165.90" font-size="7.6" text-anchor="end" fill="#222" >−4</text>
<line x1="570.10" y1="177.80" x2="572.30" y2="177.80" stroke="#111" stroke-width="0.8"/>
<text x="567.00" y="180.50" font-size="7.6" text-anchor="end" fill="#222" >−6</text>
<line x1="570.10" y1="192.40" x2="572.30" y2="192.40" stroke="#111" stroke-width="0.8"/>
<text x="567.00" y="195.10" font-size="7.6" text-anchor="end" fill="#222" >−8</text>
<line x1="570.10" y1="207.00" x2="572.30" y2="207.00" stroke="#111" stroke-width="0.8"/>
<text x="567.00" y="209.70" font-size="7.6" text-anchor="end" fill="#222" >–10</text>
<line x1="571.00" y1="126.70" x2="572.30" y2="126.70" stroke="#111" stroke-width="0.6"/>
<line x1="571.00" y1="141.30" x2="572.30" y2="141.30" stroke="#111" stroke-width="0.6"/>
<line x1="571.00" y1="155.90" x2="572.30" y2="155.90" stroke="#111" stroke-width="0.6"/>
<line x1="571.00" y1="170.50" x2="572.30" y2="170.50" stroke="#111" stroke-width="0.6"/>
<line x1="571.00" y1="185.10" x2="572.30" y2="185.10" stroke="#111" stroke-width="0.6"/>
<line x1="571.00" y1="199.70" x2="572.30" y2="199.70" stroke="#111" stroke-width="0.6"/>
<text x="0" y="0" font-size="7.9" text-anchor="middle" fill="#222" transform="translate(629.80,100.14) scale(1,1.12)" >Y459A</text>
<text x="0" y="0" font-size="9.9" text-anchor="middle" fill="#333" transform="translate(553.01,162.40) rotate(-90)" >kcal/mol</text>
<rect x="580.50" y="134.50" width="8.00" height="48.00" fill="#c0c0c0" stroke="#222" stroke-width="0.9"/>
<rect x="592.50" y="134.50" width="8.00" height="50.00" fill="#787878" stroke="#222" stroke-width="0.9"/>
<rect x="653.50" y="134.50" width="8.00" height="51.00" fill="#c0c0c0" stroke="#222" stroke-width="0.9"/>
<rect x="665.50" y="134.50" width="8.00" height="50.00" fill="#787878" stroke="#222" stroke-width="0.9"/>
<rect x="617.00" y="134.00" width="7.60" height="2.00" fill="#c0c0c0" stroke="#222" stroke-width="0.7"/>
<line x1="584.50" y1="180.50" x2="584.50" y2="184.50" stroke="#111" stroke-width="0.8"/>
<line x1="583.30" y1="184.50" x2="585.70" y2="184.50" stroke="#111" stroke-width="0.8"/>
<circle cx="584.50" cy="181.50" r="0.9" fill="white" stroke="#222" stroke-width="0.6"/>
<circle cx="584.00" cy="183.00" r="0.9" fill="white" stroke="#222" stroke-width="0.6"/>
<line x1="596.70" y1="184.50" x2="596.70" y2="192.20" stroke="#111" stroke-width="0.8"/>
<line x1="595.10" y1="192.50" x2="598.30" y2="192.50" stroke="#111" stroke-width="1.0"/>
<circle cx="596.70" cy="188.00" r="0.9" fill="white" stroke="#222" stroke-width="0.6"/>
<circle cx="595.70" cy="174.50" r="0.9" fill="white" stroke="#222" stroke-width="0.6"/>
<line x1="633.00" y1="129.30" x2="633.00" y2="143.00" stroke="#111" stroke-width="0.8"/>
<line x1="631.60" y1="143.00" x2="634.40" y2="143.00" stroke="#111" stroke-width="0.8"/>
<circle cx="633.00" cy="129.30" r="0.9" fill="white" stroke="#222" stroke-width="0.6"/>
<circle cx="620.00" cy="135.50" r="0.9" fill="white" stroke="#222" stroke-width="0.6"/>
<circle cx="622.00" cy="136.50" r="0.9" fill="white" stroke="#222" stroke-width="0.6"/>
<circle cx="657.70" cy="185.30" r="0.9" fill="white" stroke="#222" stroke-width="0.6"/>
<circle cx="669.50" cy="184.70" r="0.9" fill="white" stroke="#222" stroke-width="0.6"/>
<text x="0" y="0" font-size="7.3" text-anchor="middle" fill="#333" transform="translate(586.99,118.30) rotate(-90)" >cAMP</text>
<text x="0" y="0" font-size="7.3" text-anchor="middle" fill="#333" transform="translate(599.59,118.40) rotate(-90)" >cGMP</text>
<text x="0" y="0" font-size="8.6" text-anchor="middle" fill="#333" transform="translate(626.30,122.81) scale(1,1.05)" >-TΔS</text>
<text x="665.00" y="127.19" font-size="9.0" text-anchor="middle" fill="#333" >ΔG</text>
<text x="590.00" y="205.59" font-size="9.0" text-anchor="middle" fill="#333" >ΔH</text>
<line x1="575.50" y1="265.80" x2="575.50" y2="353.10" stroke="#111" stroke-width="1.1"/>
<line x1="575.50" y1="281.50" x2="685.00" y2="281.50" stroke="#111" stroke-width="1.1"/>
<line x1="573.30" y1="266.40" x2="575.50" y2="266.40" stroke="#111" stroke-width="0.8"/>
<text x="570.30" y="269.10" font-size="7.6" text-anchor="end" fill="#222" >2</text>
<line x1="573.30" y1="281.10" x2="575.50" y2="281.10" stroke="#111" stroke-width="0.8"/>
<text x="570.30" y="283.80" font-size="7.6" text-anchor="end" fill="#222" >0</text>
<line x1="573.30" y1="295.50" x2="575.50" y2="295.50" stroke="#111" stroke-width="0.8"/>
<text x="570.30" y="298.20" font-size="7.6" text-anchor="end" fill="#222" >−2</text>
<line x1="573.30" y1="310.20" x2="575.50" y2="310.20" stroke="#111" stroke-width="0.8"/>
<text x="570.30" y="312.90" font-size="7.6" text-anchor="end" fill="#222" >−4</text>
<line x1="573.30" y1="324.80" x2="575.50" y2="324.80" stroke="#111" stroke-width="0.8"/>
<text x="570.30" y="327.50" font-size="7.6" text-anchor="end" fill="#222" >−6</text>
<line x1="573.30" y1="339.40" x2="575.50" y2="339.40" stroke="#111" stroke-width="0.8"/>
<text x="570.30" y="342.10" font-size="7.6" text-anchor="end" fill="#222" >−8</text>
<line x1="573.30" y1="353.10" x2="575.50" y2="353.10" stroke="#111" stroke-width="0.8"/>
<text x="570.30" y="355.80" font-size="7.6" text-anchor="end" fill="#222" >–10</text>
<line x1="574.20" y1="273.75" x2="575.50" y2="273.75" stroke="#111" stroke-width="0.6"/>
<line x1="574.20" y1="288.30" x2="575.50" y2="288.30" stroke="#111" stroke-width="0.6"/>
<line x1="574.20" y1="302.85" x2="575.50" y2="302.85" stroke="#111" stroke-width="0.6"/>
<line x1="574.20" y1="317.50" x2="575.50" y2="317.50" stroke="#111" stroke-width="0.6"/>
<line x1="574.20" y1="332.10" x2="575.50" y2="332.10" stroke="#111" stroke-width="0.6"/>
<line x1="574.20" y1="346.25" x2="575.50" y2="346.25" stroke="#111" stroke-width="0.6"/>
<text x="0" y="0" font-size="7.9" text-anchor="middle" fill="#222" transform="translate(628.70,251.24) scale(1,1.12)" >E488Y/Y459E</text>
<text x="0" y="0" font-size="9.9" text-anchor="middle" fill="#333" transform="translate(553.11,315.20) rotate(-90)" >kcal/mol</text>
<rect x="594.50" y="281.50" width="17.00" height="56.00" fill="#c0c0c0" stroke="#222" stroke-width="1.0"/>
<rect x="648.50" y="281.50" width="18.00" height="56.00" fill="#c0c0c0" stroke="#222" stroke-width="1.0"/>
<circle cx="603.00" cy="337.00" r="0.9" fill="white" stroke="#222" stroke-width="0.6"/>
<circle cx="656.00" cy="337.00" r="0.9" fill="white" stroke="#222" stroke-width="0.6"/>
<circle cx="659.00" cy="337.00" r="0.9" fill="white" stroke="#222" stroke-width="0.6"/>
<line x1="621.00" y1="280.60" x2="639.50" y2="280.60" stroke="#666" stroke-width="0.5"/>
<circle cx="628.60" cy="281.60" r="0.7" fill="#111" stroke="none" stroke-width="0.6"/>
<circle cx="632.40" cy="281.00" r="0.7" fill="#111" stroke="none" stroke-width="0.6"/>
<text x="604.60" y="271.75" font-size="8.6" text-anchor="middle" fill="#333" >ΔH</text>
<text x="631.00" y="271.75" font-size="8.6" text-anchor="middle" fill="#333" >-TΔS</text>
<text x="655.00" y="271.75" font-size="8.6" text-anchor="middle" fill="#333" >ΔG</text>
<text x="628.30" y="353.96" font-size="7.2" text-anchor="middle" fill="#333" >cAMP</text>
</svg>
</body></html>
